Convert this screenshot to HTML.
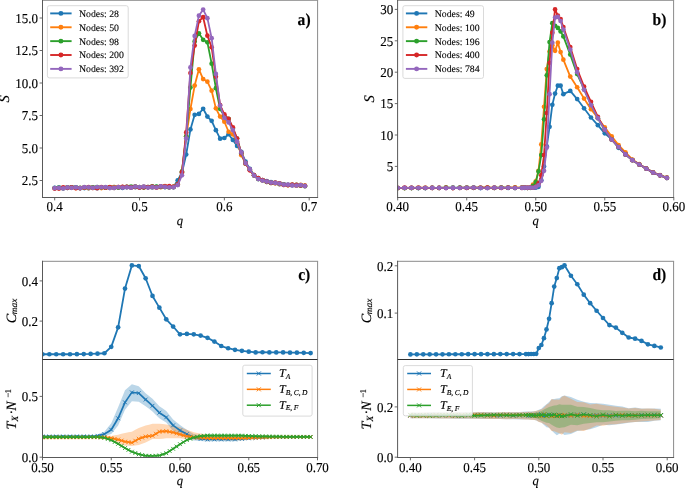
<!DOCTYPE html>
<html><head><meta charset="utf-8"><title>figure</title><style>html,body{margin:0;padding:0;background:#fff;width:685px;height:488px;overflow:hidden;}body{position:relative;font-family:"Liberation Serif",serif;}</style></head><body>
<svg width="685" height="488" viewBox="0 0 685 488" style="position:absolute;left:0;top:0;will-change:transform" font-family="'Liberation Serif', serif" text-rendering="geometricPrecision">
<style>text{stroke:#000;stroke-width:0.14px;} text.lg{stroke-width:0.1px;} text.lg2{stroke-width:0.15px;}</style>
<rect width="685" height="488" fill="#fff"/>
<defs><clipPath id="ca"><rect x="42.5" y="0.3" width="275.1" height="197.2"/></clipPath>
<clipPath id="cb"><rect x="397.7" y="0.3" width="275.90000000000003" height="197.2"/></clipPath>
<clipPath id="cc"><rect x="42.5" y="261.2" width="275" height="196"/></clipPath>
<clipPath id="cd"><rect x="397.6" y="261.2" width="276" height="196"/></clipPath></defs>
<g clip-path="url(#ca)">
<polyline points="54.7,187.97 58.94,187.72 63.18,188.22 67.42,187.89 71.67,187.34 75.91,187.29 80.15,188.25 84.39,188.1 88.63,188.25 92.87,187.7 97.11,188.19 101.36,187.59 105.6,187.29 109.84,187.72 114.08,187.16 118.32,187.23 122.56,187.92 126.81,187.17 131.05,187.52 135.29,187.27 139.53,187.39 143.77,186.81 148.01,187.1 152.25,187.42 156.5,186.87 160.74,186.51 164.98,187.08 169.22,187.15 173.46,186.89 177.7,180.24 181.95,172.7 186.19,154.5 190.43,129.41 194.67,114.85 198.91,113.94 203.15,108.74 207.39,116.54 211.64,120.83 215.88,130.19 220.12,138.64 224.36,137.99 228.6,134.22 232.84,139.94 237.08,145.92 241.33,151.9 245.57,161.65 249.81,168.93 254.05,175.11 258.29,178.18 262.53,180.06 266.77,181.12 271.02,182.22 275.26,183.1 279.5,184.17 283.74,184.37 287.98,184.73 292.22,185.19 296.47,185.6 300.71,185.41 304.95,185.73" fill="none" stroke="#1f77b4" stroke-width="1.8" stroke-linejoin="round" stroke-linecap="round" />
<circle cx="54.7" cy="187.97" r="2.35" fill="#1f77b4"/>
<circle cx="58.94" cy="187.72" r="2.35" fill="#1f77b4"/>
<circle cx="63.18" cy="188.22" r="2.35" fill="#1f77b4"/>
<circle cx="67.42" cy="187.89" r="2.35" fill="#1f77b4"/>
<circle cx="71.67" cy="187.34" r="2.35" fill="#1f77b4"/>
<circle cx="75.91" cy="187.29" r="2.35" fill="#1f77b4"/>
<circle cx="80.15" cy="188.25" r="2.35" fill="#1f77b4"/>
<circle cx="84.39" cy="188.1" r="2.35" fill="#1f77b4"/>
<circle cx="88.63" cy="188.25" r="2.35" fill="#1f77b4"/>
<circle cx="92.87" cy="187.7" r="2.35" fill="#1f77b4"/>
<circle cx="97.11" cy="188.19" r="2.35" fill="#1f77b4"/>
<circle cx="101.36" cy="187.59" r="2.35" fill="#1f77b4"/>
<circle cx="105.6" cy="187.29" r="2.35" fill="#1f77b4"/>
<circle cx="109.84" cy="187.72" r="2.35" fill="#1f77b4"/>
<circle cx="114.08" cy="187.16" r="2.35" fill="#1f77b4"/>
<circle cx="118.32" cy="187.23" r="2.35" fill="#1f77b4"/>
<circle cx="122.56" cy="187.92" r="2.35" fill="#1f77b4"/>
<circle cx="126.81" cy="187.17" r="2.35" fill="#1f77b4"/>
<circle cx="131.05" cy="187.52" r="2.35" fill="#1f77b4"/>
<circle cx="135.29" cy="187.27" r="2.35" fill="#1f77b4"/>
<circle cx="139.53" cy="187.39" r="2.35" fill="#1f77b4"/>
<circle cx="143.77" cy="186.81" r="2.35" fill="#1f77b4"/>
<circle cx="148.01" cy="187.1" r="2.35" fill="#1f77b4"/>
<circle cx="152.25" cy="187.42" r="2.35" fill="#1f77b4"/>
<circle cx="156.5" cy="186.87" r="2.35" fill="#1f77b4"/>
<circle cx="160.74" cy="186.51" r="2.35" fill="#1f77b4"/>
<circle cx="164.98" cy="187.08" r="2.35" fill="#1f77b4"/>
<circle cx="169.22" cy="187.15" r="2.35" fill="#1f77b4"/>
<circle cx="173.46" cy="186.89" r="2.35" fill="#1f77b4"/>
<circle cx="177.7" cy="180.24" r="2.35" fill="#1f77b4"/>
<circle cx="181.95" cy="172.7" r="2.35" fill="#1f77b4"/>
<circle cx="186.19" cy="154.5" r="2.35" fill="#1f77b4"/>
<circle cx="190.43" cy="129.41" r="2.35" fill="#1f77b4"/>
<circle cx="194.67" cy="114.85" r="2.35" fill="#1f77b4"/>
<circle cx="198.91" cy="113.94" r="2.35" fill="#1f77b4"/>
<circle cx="203.15" cy="108.74" r="2.35" fill="#1f77b4"/>
<circle cx="207.39" cy="116.54" r="2.35" fill="#1f77b4"/>
<circle cx="211.64" cy="120.83" r="2.35" fill="#1f77b4"/>
<circle cx="215.88" cy="130.19" r="2.35" fill="#1f77b4"/>
<circle cx="220.12" cy="138.64" r="2.35" fill="#1f77b4"/>
<circle cx="224.36" cy="137.99" r="2.35" fill="#1f77b4"/>
<circle cx="228.6" cy="134.22" r="2.35" fill="#1f77b4"/>
<circle cx="232.84" cy="139.94" r="2.35" fill="#1f77b4"/>
<circle cx="237.08" cy="145.92" r="2.35" fill="#1f77b4"/>
<circle cx="241.33" cy="151.9" r="2.35" fill="#1f77b4"/>
<circle cx="245.57" cy="161.65" r="2.35" fill="#1f77b4"/>
<circle cx="249.81" cy="168.93" r="2.35" fill="#1f77b4"/>
<circle cx="254.05" cy="175.11" r="2.35" fill="#1f77b4"/>
<circle cx="258.29" cy="178.18" r="2.35" fill="#1f77b4"/>
<circle cx="262.53" cy="180.06" r="2.35" fill="#1f77b4"/>
<circle cx="266.77" cy="181.12" r="2.35" fill="#1f77b4"/>
<circle cx="271.02" cy="182.22" r="2.35" fill="#1f77b4"/>
<circle cx="275.26" cy="183.1" r="2.35" fill="#1f77b4"/>
<circle cx="279.5" cy="184.17" r="2.35" fill="#1f77b4"/>
<circle cx="283.74" cy="184.37" r="2.35" fill="#1f77b4"/>
<circle cx="287.98" cy="184.73" r="2.35" fill="#1f77b4"/>
<circle cx="292.22" cy="185.19" r="2.35" fill="#1f77b4"/>
<circle cx="296.47" cy="185.6" r="2.35" fill="#1f77b4"/>
<circle cx="300.71" cy="185.41" r="2.35" fill="#1f77b4"/>
<circle cx="304.95" cy="185.73" r="2.35" fill="#1f77b4"/>
<polyline points="54.7,188.34 58.94,188.26 63.18,188 67.42,187.43 71.67,187.74 75.91,188.09 80.15,188.05 84.39,187.77 88.63,188.05 92.87,188.01 97.11,187.56 101.36,188.07 105.6,187.5 109.84,187.62 114.08,187.12 118.32,187.02 122.56,187.05 126.81,187 131.05,187.37 135.29,186.94 139.53,187.32 143.77,186.97 148.01,187.25 152.25,187.04 156.5,187.5 160.74,187.21 164.98,186.22 169.22,187.14 173.46,186.49 177.7,184.4 181.95,172.7 186.19,136.3 190.43,109 194.67,85.6 198.91,69.35 203.15,79.1 207.39,81.7 211.64,90.67 215.88,108.35 220.12,116.54 224.36,121.74 228.6,131.75 232.84,134.35 237.08,141.63 241.33,155.15 245.57,163.6 249.81,169.94 254.05,175.33 258.29,178.71 262.53,180.14 266.77,181.99 271.02,183.02 275.26,183.28 279.5,184.11 283.74,184.95 287.98,185.18 292.22,184.99 296.47,185.63 300.71,184.84 304.95,185.51" fill="none" stroke="#ff7f0e" stroke-width="1.8" stroke-linejoin="round" stroke-linecap="round" />
<circle cx="54.7" cy="188.34" r="2.35" fill="#ff7f0e"/>
<circle cx="58.94" cy="188.26" r="2.35" fill="#ff7f0e"/>
<circle cx="63.18" cy="188" r="2.35" fill="#ff7f0e"/>
<circle cx="67.42" cy="187.43" r="2.35" fill="#ff7f0e"/>
<circle cx="71.67" cy="187.74" r="2.35" fill="#ff7f0e"/>
<circle cx="75.91" cy="188.09" r="2.35" fill="#ff7f0e"/>
<circle cx="80.15" cy="188.05" r="2.35" fill="#ff7f0e"/>
<circle cx="84.39" cy="187.77" r="2.35" fill="#ff7f0e"/>
<circle cx="88.63" cy="188.05" r="2.35" fill="#ff7f0e"/>
<circle cx="92.87" cy="188.01" r="2.35" fill="#ff7f0e"/>
<circle cx="97.11" cy="187.56" r="2.35" fill="#ff7f0e"/>
<circle cx="101.36" cy="188.07" r="2.35" fill="#ff7f0e"/>
<circle cx="105.6" cy="187.5" r="2.35" fill="#ff7f0e"/>
<circle cx="109.84" cy="187.62" r="2.35" fill="#ff7f0e"/>
<circle cx="114.08" cy="187.12" r="2.35" fill="#ff7f0e"/>
<circle cx="118.32" cy="187.02" r="2.35" fill="#ff7f0e"/>
<circle cx="122.56" cy="187.05" r="2.35" fill="#ff7f0e"/>
<circle cx="126.81" cy="187" r="2.35" fill="#ff7f0e"/>
<circle cx="131.05" cy="187.37" r="2.35" fill="#ff7f0e"/>
<circle cx="135.29" cy="186.94" r="2.35" fill="#ff7f0e"/>
<circle cx="139.53" cy="187.32" r="2.35" fill="#ff7f0e"/>
<circle cx="143.77" cy="186.97" r="2.35" fill="#ff7f0e"/>
<circle cx="148.01" cy="187.25" r="2.35" fill="#ff7f0e"/>
<circle cx="152.25" cy="187.04" r="2.35" fill="#ff7f0e"/>
<circle cx="156.5" cy="187.5" r="2.35" fill="#ff7f0e"/>
<circle cx="160.74" cy="187.21" r="2.35" fill="#ff7f0e"/>
<circle cx="164.98" cy="186.22" r="2.35" fill="#ff7f0e"/>
<circle cx="169.22" cy="187.14" r="2.35" fill="#ff7f0e"/>
<circle cx="173.46" cy="186.49" r="2.35" fill="#ff7f0e"/>
<circle cx="177.7" cy="184.4" r="2.35" fill="#ff7f0e"/>
<circle cx="181.95" cy="172.7" r="2.35" fill="#ff7f0e"/>
<circle cx="186.19" cy="136.3" r="2.35" fill="#ff7f0e"/>
<circle cx="190.43" cy="109" r="2.35" fill="#ff7f0e"/>
<circle cx="194.67" cy="85.6" r="2.35" fill="#ff7f0e"/>
<circle cx="198.91" cy="69.35" r="2.35" fill="#ff7f0e"/>
<circle cx="203.15" cy="79.1" r="2.35" fill="#ff7f0e"/>
<circle cx="207.39" cy="81.7" r="2.35" fill="#ff7f0e"/>
<circle cx="211.64" cy="90.67" r="2.35" fill="#ff7f0e"/>
<circle cx="215.88" cy="108.35" r="2.35" fill="#ff7f0e"/>
<circle cx="220.12" cy="116.54" r="2.35" fill="#ff7f0e"/>
<circle cx="224.36" cy="121.74" r="2.35" fill="#ff7f0e"/>
<circle cx="228.6" cy="131.75" r="2.35" fill="#ff7f0e"/>
<circle cx="232.84" cy="134.35" r="2.35" fill="#ff7f0e"/>
<circle cx="237.08" cy="141.63" r="2.35" fill="#ff7f0e"/>
<circle cx="241.33" cy="155.15" r="2.35" fill="#ff7f0e"/>
<circle cx="245.57" cy="163.6" r="2.35" fill="#ff7f0e"/>
<circle cx="249.81" cy="169.94" r="2.35" fill="#ff7f0e"/>
<circle cx="254.05" cy="175.33" r="2.35" fill="#ff7f0e"/>
<circle cx="258.29" cy="178.71" r="2.35" fill="#ff7f0e"/>
<circle cx="262.53" cy="180.14" r="2.35" fill="#ff7f0e"/>
<circle cx="266.77" cy="181.99" r="2.35" fill="#ff7f0e"/>
<circle cx="271.02" cy="183.02" r="2.35" fill="#ff7f0e"/>
<circle cx="275.26" cy="183.28" r="2.35" fill="#ff7f0e"/>
<circle cx="279.5" cy="184.11" r="2.35" fill="#ff7f0e"/>
<circle cx="283.74" cy="184.95" r="2.35" fill="#ff7f0e"/>
<circle cx="287.98" cy="185.18" r="2.35" fill="#ff7f0e"/>
<circle cx="292.22" cy="184.99" r="2.35" fill="#ff7f0e"/>
<circle cx="296.47" cy="185.63" r="2.35" fill="#ff7f0e"/>
<circle cx="300.71" cy="184.84" r="2.35" fill="#ff7f0e"/>
<circle cx="304.95" cy="185.51" r="2.35" fill="#ff7f0e"/>
<polyline points="54.7,187.99 58.94,187.72 63.18,188.25 67.42,187.35 71.67,187.41 75.91,187.51 80.15,187.79 84.39,187.27 88.63,187.35 92.87,187.41 97.11,187.04 101.36,187.36 105.6,187.66 109.84,187.37 114.08,187.78 118.32,187.74 122.56,187 126.81,186.88 131.05,186.59 135.29,186.7 139.53,187.05 143.77,187.6 148.01,187.03 152.25,186.42 156.5,186.55 160.74,186.9 164.98,186.89 169.22,187.15 173.46,187.16 177.7,184.4 181.95,171.4 186.19,136.3 190.43,87.55 194.67,41.4 198.91,33.34 203.15,39.84 207.39,42.31 211.64,63.63 215.88,88.2 220.12,109 224.36,116.15 228.6,118.75 232.84,128.5 237.08,138.51 241.33,153.2 245.57,163.52 249.81,169.69 254.05,175.41 258.29,179.05 262.53,180.33 266.77,182.01 271.02,182.88 275.26,182.73 279.5,183.59 283.74,184.55 287.98,185.02 292.22,184.89 296.47,184.84 300.71,185.38 304.95,186.15" fill="none" stroke="#2ca02c" stroke-width="1.8" stroke-linejoin="round" stroke-linecap="round" />
<circle cx="54.7" cy="187.99" r="2.35" fill="#2ca02c"/>
<circle cx="58.94" cy="187.72" r="2.35" fill="#2ca02c"/>
<circle cx="63.18" cy="188.25" r="2.35" fill="#2ca02c"/>
<circle cx="67.42" cy="187.35" r="2.35" fill="#2ca02c"/>
<circle cx="71.67" cy="187.41" r="2.35" fill="#2ca02c"/>
<circle cx="75.91" cy="187.51" r="2.35" fill="#2ca02c"/>
<circle cx="80.15" cy="187.79" r="2.35" fill="#2ca02c"/>
<circle cx="84.39" cy="187.27" r="2.35" fill="#2ca02c"/>
<circle cx="88.63" cy="187.35" r="2.35" fill="#2ca02c"/>
<circle cx="92.87" cy="187.41" r="2.35" fill="#2ca02c"/>
<circle cx="97.11" cy="187.04" r="2.35" fill="#2ca02c"/>
<circle cx="101.36" cy="187.36" r="2.35" fill="#2ca02c"/>
<circle cx="105.6" cy="187.66" r="2.35" fill="#2ca02c"/>
<circle cx="109.84" cy="187.37" r="2.35" fill="#2ca02c"/>
<circle cx="114.08" cy="187.78" r="2.35" fill="#2ca02c"/>
<circle cx="118.32" cy="187.74" r="2.35" fill="#2ca02c"/>
<circle cx="122.56" cy="187" r="2.35" fill="#2ca02c"/>
<circle cx="126.81" cy="186.88" r="2.35" fill="#2ca02c"/>
<circle cx="131.05" cy="186.59" r="2.35" fill="#2ca02c"/>
<circle cx="135.29" cy="186.7" r="2.35" fill="#2ca02c"/>
<circle cx="139.53" cy="187.05" r="2.35" fill="#2ca02c"/>
<circle cx="143.77" cy="187.6" r="2.35" fill="#2ca02c"/>
<circle cx="148.01" cy="187.03" r="2.35" fill="#2ca02c"/>
<circle cx="152.25" cy="186.42" r="2.35" fill="#2ca02c"/>
<circle cx="156.5" cy="186.55" r="2.35" fill="#2ca02c"/>
<circle cx="160.74" cy="186.9" r="2.35" fill="#2ca02c"/>
<circle cx="164.98" cy="186.89" r="2.35" fill="#2ca02c"/>
<circle cx="169.22" cy="187.15" r="2.35" fill="#2ca02c"/>
<circle cx="173.46" cy="187.16" r="2.35" fill="#2ca02c"/>
<circle cx="177.7" cy="184.4" r="2.35" fill="#2ca02c"/>
<circle cx="181.95" cy="171.4" r="2.35" fill="#2ca02c"/>
<circle cx="186.19" cy="136.3" r="2.35" fill="#2ca02c"/>
<circle cx="190.43" cy="87.55" r="2.35" fill="#2ca02c"/>
<circle cx="194.67" cy="41.4" r="2.35" fill="#2ca02c"/>
<circle cx="198.91" cy="33.34" r="2.35" fill="#2ca02c"/>
<circle cx="203.15" cy="39.84" r="2.35" fill="#2ca02c"/>
<circle cx="207.39" cy="42.31" r="2.35" fill="#2ca02c"/>
<circle cx="211.64" cy="63.63" r="2.35" fill="#2ca02c"/>
<circle cx="215.88" cy="88.2" r="2.35" fill="#2ca02c"/>
<circle cx="220.12" cy="109" r="2.35" fill="#2ca02c"/>
<circle cx="224.36" cy="116.15" r="2.35" fill="#2ca02c"/>
<circle cx="228.6" cy="118.75" r="2.35" fill="#2ca02c"/>
<circle cx="232.84" cy="128.5" r="2.35" fill="#2ca02c"/>
<circle cx="237.08" cy="138.51" r="2.35" fill="#2ca02c"/>
<circle cx="241.33" cy="153.2" r="2.35" fill="#2ca02c"/>
<circle cx="245.57" cy="163.52" r="2.35" fill="#2ca02c"/>
<circle cx="249.81" cy="169.69" r="2.35" fill="#2ca02c"/>
<circle cx="254.05" cy="175.41" r="2.35" fill="#2ca02c"/>
<circle cx="258.29" cy="179.05" r="2.35" fill="#2ca02c"/>
<circle cx="262.53" cy="180.33" r="2.35" fill="#2ca02c"/>
<circle cx="266.77" cy="182.01" r="2.35" fill="#2ca02c"/>
<circle cx="271.02" cy="182.88" r="2.35" fill="#2ca02c"/>
<circle cx="275.26" cy="182.73" r="2.35" fill="#2ca02c"/>
<circle cx="279.5" cy="183.59" r="2.35" fill="#2ca02c"/>
<circle cx="283.74" cy="184.55" r="2.35" fill="#2ca02c"/>
<circle cx="287.98" cy="185.02" r="2.35" fill="#2ca02c"/>
<circle cx="292.22" cy="184.89" r="2.35" fill="#2ca02c"/>
<circle cx="296.47" cy="184.84" r="2.35" fill="#2ca02c"/>
<circle cx="300.71" cy="185.38" r="2.35" fill="#2ca02c"/>
<circle cx="304.95" cy="186.15" r="2.35" fill="#2ca02c"/>
<polyline points="54.7,188.61 58.94,188.54 63.18,187.35 67.42,187.85 71.67,187.42 75.91,188.24 80.15,188.07 84.39,187.47 88.63,187.15 92.87,187.83 97.11,188.14 101.36,187.06 105.6,187.75 109.84,187.12 114.08,187.83 118.32,187.09 122.56,186.85 126.81,186.96 131.05,187.39 135.29,186.86 139.53,187.58 143.77,187.31 148.01,187.12 152.25,186.48 156.5,187.38 160.74,186.39 164.98,186.44 169.22,186.17 173.46,186.91 177.7,184.4 181.95,172.05 186.19,132.4 190.43,72.99 194.67,45.56 198.91,21.25 203.15,17.22 207.39,35.68 211.64,47.25 215.88,76.76 220.12,105.1 224.36,114.33 228.6,118.75 232.84,127.33 237.08,138.51 241.33,152.94 245.57,163.39 249.81,170.37 254.05,175.22 258.29,178.2 262.53,180.03 266.77,181.56 271.02,182.8 275.26,182.62 279.5,183.36 283.74,184.95 287.98,185.09 292.22,184.7 296.47,184.95 300.71,185.5 304.95,185.93" fill="none" stroke="#d62728" stroke-width="1.8" stroke-linejoin="round" stroke-linecap="round" />
<circle cx="54.7" cy="188.61" r="2.35" fill="#d62728"/>
<circle cx="58.94" cy="188.54" r="2.35" fill="#d62728"/>
<circle cx="63.18" cy="187.35" r="2.35" fill="#d62728"/>
<circle cx="67.42" cy="187.85" r="2.35" fill="#d62728"/>
<circle cx="71.67" cy="187.42" r="2.35" fill="#d62728"/>
<circle cx="75.91" cy="188.24" r="2.35" fill="#d62728"/>
<circle cx="80.15" cy="188.07" r="2.35" fill="#d62728"/>
<circle cx="84.39" cy="187.47" r="2.35" fill="#d62728"/>
<circle cx="88.63" cy="187.15" r="2.35" fill="#d62728"/>
<circle cx="92.87" cy="187.83" r="2.35" fill="#d62728"/>
<circle cx="97.11" cy="188.14" r="2.35" fill="#d62728"/>
<circle cx="101.36" cy="187.06" r="2.35" fill="#d62728"/>
<circle cx="105.6" cy="187.75" r="2.35" fill="#d62728"/>
<circle cx="109.84" cy="187.12" r="2.35" fill="#d62728"/>
<circle cx="114.08" cy="187.83" r="2.35" fill="#d62728"/>
<circle cx="118.32" cy="187.09" r="2.35" fill="#d62728"/>
<circle cx="122.56" cy="186.85" r="2.35" fill="#d62728"/>
<circle cx="126.81" cy="186.96" r="2.35" fill="#d62728"/>
<circle cx="131.05" cy="187.39" r="2.35" fill="#d62728"/>
<circle cx="135.29" cy="186.86" r="2.35" fill="#d62728"/>
<circle cx="139.53" cy="187.58" r="2.35" fill="#d62728"/>
<circle cx="143.77" cy="187.31" r="2.35" fill="#d62728"/>
<circle cx="148.01" cy="187.12" r="2.35" fill="#d62728"/>
<circle cx="152.25" cy="186.48" r="2.35" fill="#d62728"/>
<circle cx="156.5" cy="187.38" r="2.35" fill="#d62728"/>
<circle cx="160.74" cy="186.39" r="2.35" fill="#d62728"/>
<circle cx="164.98" cy="186.44" r="2.35" fill="#d62728"/>
<circle cx="169.22" cy="186.17" r="2.35" fill="#d62728"/>
<circle cx="173.46" cy="186.91" r="2.35" fill="#d62728"/>
<circle cx="177.7" cy="184.4" r="2.35" fill="#d62728"/>
<circle cx="181.95" cy="172.05" r="2.35" fill="#d62728"/>
<circle cx="186.19" cy="132.4" r="2.35" fill="#d62728"/>
<circle cx="190.43" cy="72.99" r="2.35" fill="#d62728"/>
<circle cx="194.67" cy="45.56" r="2.35" fill="#d62728"/>
<circle cx="198.91" cy="21.25" r="2.35" fill="#d62728"/>
<circle cx="203.15" cy="17.22" r="2.35" fill="#d62728"/>
<circle cx="207.39" cy="35.68" r="2.35" fill="#d62728"/>
<circle cx="211.64" cy="47.25" r="2.35" fill="#d62728"/>
<circle cx="215.88" cy="76.76" r="2.35" fill="#d62728"/>
<circle cx="220.12" cy="105.1" r="2.35" fill="#d62728"/>
<circle cx="224.36" cy="114.33" r="2.35" fill="#d62728"/>
<circle cx="228.6" cy="118.75" r="2.35" fill="#d62728"/>
<circle cx="232.84" cy="127.33" r="2.35" fill="#d62728"/>
<circle cx="237.08" cy="138.51" r="2.35" fill="#d62728"/>
<circle cx="241.33" cy="152.94" r="2.35" fill="#d62728"/>
<circle cx="245.57" cy="163.39" r="2.35" fill="#d62728"/>
<circle cx="249.81" cy="170.37" r="2.35" fill="#d62728"/>
<circle cx="254.05" cy="175.22" r="2.35" fill="#d62728"/>
<circle cx="258.29" cy="178.2" r="2.35" fill="#d62728"/>
<circle cx="262.53" cy="180.03" r="2.35" fill="#d62728"/>
<circle cx="266.77" cy="181.56" r="2.35" fill="#d62728"/>
<circle cx="271.02" cy="182.8" r="2.35" fill="#d62728"/>
<circle cx="275.26" cy="182.62" r="2.35" fill="#d62728"/>
<circle cx="279.5" cy="183.36" r="2.35" fill="#d62728"/>
<circle cx="283.74" cy="184.95" r="2.35" fill="#d62728"/>
<circle cx="287.98" cy="185.09" r="2.35" fill="#d62728"/>
<circle cx="292.22" cy="184.7" r="2.35" fill="#d62728"/>
<circle cx="296.47" cy="184.95" r="2.35" fill="#d62728"/>
<circle cx="300.71" cy="185.5" r="2.35" fill="#d62728"/>
<circle cx="304.95" cy="185.93" r="2.35" fill="#d62728"/>
<polyline points="54.7,188.13 58.94,187.94 63.18,188.47 67.42,187.46 71.67,187.81 75.91,187.45 80.15,188.11 84.39,187.11 88.63,187.34 92.87,187.83 97.11,186.99 101.36,187.27 105.6,187.04 109.84,188.03 114.08,187.97 118.32,187.03 122.56,187.55 126.81,187.23 131.05,187.65 135.29,186.54 139.53,187.11 143.77,186.64 148.01,187.57 152.25,187 156.5,187.49 160.74,186.38 164.98,186.9 169.22,187.35 173.46,187.29 177.7,185.05 181.95,175.3 186.19,138.38 190.43,67.4 194.67,35.94 198.91,15.66 203.15,9.55 207.39,18.13 211.64,38.15 215.88,73.9 220.12,105.49 224.36,117.84 228.6,122.39 232.84,130.06 237.08,141.63 241.33,152.42 245.57,163.08 249.81,169.19 254.05,175.52 258.29,179.12 262.53,180.57 266.77,181.61 271.02,182.58 275.26,182.88 279.5,183.62 283.74,184.66 287.98,184.67 292.22,185.41 296.47,185.54 300.71,185 304.95,186.06" fill="none" stroke="#9467bd" stroke-width="1.8" stroke-linejoin="round" stroke-linecap="round" />
<circle cx="54.7" cy="188.13" r="2.35" fill="#9467bd"/>
<circle cx="58.94" cy="187.94" r="2.35" fill="#9467bd"/>
<circle cx="63.18" cy="188.47" r="2.35" fill="#9467bd"/>
<circle cx="67.42" cy="187.46" r="2.35" fill="#9467bd"/>
<circle cx="71.67" cy="187.81" r="2.35" fill="#9467bd"/>
<circle cx="75.91" cy="187.45" r="2.35" fill="#9467bd"/>
<circle cx="80.15" cy="188.11" r="2.35" fill="#9467bd"/>
<circle cx="84.39" cy="187.11" r="2.35" fill="#9467bd"/>
<circle cx="88.63" cy="187.34" r="2.35" fill="#9467bd"/>
<circle cx="92.87" cy="187.83" r="2.35" fill="#9467bd"/>
<circle cx="97.11" cy="186.99" r="2.35" fill="#9467bd"/>
<circle cx="101.36" cy="187.27" r="2.35" fill="#9467bd"/>
<circle cx="105.6" cy="187.04" r="2.35" fill="#9467bd"/>
<circle cx="109.84" cy="188.03" r="2.35" fill="#9467bd"/>
<circle cx="114.08" cy="187.97" r="2.35" fill="#9467bd"/>
<circle cx="118.32" cy="187.03" r="2.35" fill="#9467bd"/>
<circle cx="122.56" cy="187.55" r="2.35" fill="#9467bd"/>
<circle cx="126.81" cy="187.23" r="2.35" fill="#9467bd"/>
<circle cx="131.05" cy="187.65" r="2.35" fill="#9467bd"/>
<circle cx="135.29" cy="186.54" r="2.35" fill="#9467bd"/>
<circle cx="139.53" cy="187.11" r="2.35" fill="#9467bd"/>
<circle cx="143.77" cy="186.64" r="2.35" fill="#9467bd"/>
<circle cx="148.01" cy="187.57" r="2.35" fill="#9467bd"/>
<circle cx="152.25" cy="187" r="2.35" fill="#9467bd"/>
<circle cx="156.5" cy="187.49" r="2.35" fill="#9467bd"/>
<circle cx="160.74" cy="186.38" r="2.35" fill="#9467bd"/>
<circle cx="164.98" cy="186.9" r="2.35" fill="#9467bd"/>
<circle cx="169.22" cy="187.35" r="2.35" fill="#9467bd"/>
<circle cx="173.46" cy="187.29" r="2.35" fill="#9467bd"/>
<circle cx="177.7" cy="185.05" r="2.35" fill="#9467bd"/>
<circle cx="181.95" cy="175.3" r="2.35" fill="#9467bd"/>
<circle cx="186.19" cy="138.38" r="2.35" fill="#9467bd"/>
<circle cx="190.43" cy="67.4" r="2.35" fill="#9467bd"/>
<circle cx="194.67" cy="35.94" r="2.35" fill="#9467bd"/>
<circle cx="198.91" cy="15.66" r="2.35" fill="#9467bd"/>
<circle cx="203.15" cy="9.55" r="2.35" fill="#9467bd"/>
<circle cx="207.39" cy="18.13" r="2.35" fill="#9467bd"/>
<circle cx="211.64" cy="38.15" r="2.35" fill="#9467bd"/>
<circle cx="215.88" cy="73.9" r="2.35" fill="#9467bd"/>
<circle cx="220.12" cy="105.49" r="2.35" fill="#9467bd"/>
<circle cx="224.36" cy="117.84" r="2.35" fill="#9467bd"/>
<circle cx="228.6" cy="122.39" r="2.35" fill="#9467bd"/>
<circle cx="232.84" cy="130.06" r="2.35" fill="#9467bd"/>
<circle cx="237.08" cy="141.63" r="2.35" fill="#9467bd"/>
<circle cx="241.33" cy="152.42" r="2.35" fill="#9467bd"/>
<circle cx="245.57" cy="163.08" r="2.35" fill="#9467bd"/>
<circle cx="249.81" cy="169.19" r="2.35" fill="#9467bd"/>
<circle cx="254.05" cy="175.52" r="2.35" fill="#9467bd"/>
<circle cx="258.29" cy="179.12" r="2.35" fill="#9467bd"/>
<circle cx="262.53" cy="180.57" r="2.35" fill="#9467bd"/>
<circle cx="266.77" cy="181.61" r="2.35" fill="#9467bd"/>
<circle cx="271.02" cy="182.58" r="2.35" fill="#9467bd"/>
<circle cx="275.26" cy="182.88" r="2.35" fill="#9467bd"/>
<circle cx="279.5" cy="183.62" r="2.35" fill="#9467bd"/>
<circle cx="283.74" cy="184.66" r="2.35" fill="#9467bd"/>
<circle cx="287.98" cy="184.67" r="2.35" fill="#9467bd"/>
<circle cx="292.22" cy="185.41" r="2.35" fill="#9467bd"/>
<circle cx="296.47" cy="185.54" r="2.35" fill="#9467bd"/>
<circle cx="300.71" cy="185" r="2.35" fill="#9467bd"/>
<circle cx="304.95" cy="186.06" r="2.35" fill="#9467bd"/>
</g>
<rect x="47.4" y="5.7" width="80.8" height="72.2" rx="2" ry="2" fill="#fff" fill-opacity="0.8" stroke="#d6d6d6" stroke-width="0.9"/>
<line x1="50.2" y1="13.4" x2="71.6" y2="13.4" stroke="#1f77b4" stroke-width="1.9"/>
<circle cx="60.9" cy="13.4" r="2.45" fill="#1f77b4"/>
<text x="79" y="16.8" font-size="9.8" text-anchor="start" class="lg">Nodes: 28</text>
<line x1="50.2" y1="27.27" x2="71.6" y2="27.27" stroke="#ff7f0e" stroke-width="1.9"/>
<circle cx="60.9" cy="27.27" r="2.45" fill="#ff7f0e"/>
<text x="79" y="30.67" font-size="9.8" text-anchor="start" class="lg">Nodes: 50</text>
<line x1="50.2" y1="41.14" x2="71.6" y2="41.14" stroke="#2ca02c" stroke-width="1.9"/>
<circle cx="60.9" cy="41.14" r="2.45" fill="#2ca02c"/>
<text x="79" y="44.54" font-size="9.8" text-anchor="start" class="lg">Nodes: 98</text>
<line x1="50.2" y1="55.01" x2="71.6" y2="55.01" stroke="#d62728" stroke-width="1.9"/>
<circle cx="60.9" cy="55.01" r="2.45" fill="#d62728"/>
<text x="79" y="58.41" font-size="9.8" text-anchor="start" class="lg">Nodes: 200</text>
<line x1="50.2" y1="68.88" x2="71.6" y2="68.88" stroke="#9467bd" stroke-width="1.9"/>
<circle cx="60.9" cy="68.88" r="2.45" fill="#9467bd"/>
<text x="79" y="72.28" font-size="9.8" text-anchor="start" class="lg">Nodes: 392</text>
<line x1="317.6" y1="0.3" x2="317.6" y2="197.5" stroke="#8a8a8a" stroke-width="1"/>
<line x1="42" y1="0.3" x2="318.1" y2="0.3" stroke="#8a8a8a" stroke-width="1"/>
<line x1="42.5" y1="-0.2" x2="42.5" y2="198" stroke="#595959" stroke-width="1"/>
<line x1="42" y1="197.5" x2="318.1" y2="197.5" stroke="#595959" stroke-width="1"/>
<line x1="54.7" y1="197.5" x2="54.7" y2="200.4" stroke="#595959" stroke-width="0.9"/>
<text transform="translate(54.7,211) scale(0.955,1)" font-size="13.6" text-anchor="middle" >0.4</text>
<line x1="139.53" y1="197.5" x2="139.53" y2="200.4" stroke="#595959" stroke-width="0.9"/>
<text transform="translate(139.53,211) scale(0.955,1)" font-size="13.6" text-anchor="middle" >0.5</text>
<line x1="224.36" y1="197.5" x2="224.36" y2="200.4" stroke="#595959" stroke-width="0.9"/>
<text transform="translate(224.36,211) scale(0.955,1)" font-size="13.6" text-anchor="middle" >0.6</text>
<line x1="309.19" y1="197.5" x2="309.19" y2="200.4" stroke="#595959" stroke-width="0.9"/>
<text transform="translate(309.19,211) scale(0.955,1)" font-size="13.6" text-anchor="middle" >0.7</text>
<line x1="39.6" y1="180.5" x2="42.5" y2="180.5" stroke="#595959" stroke-width="0.9"/>
<text transform="translate(38.1,185.2) scale(0.955,1)" font-size="13.6" text-anchor="end" >2.5</text>
<line x1="39.6" y1="148" x2="42.5" y2="148" stroke="#595959" stroke-width="0.9"/>
<text transform="translate(38.1,152.7) scale(0.955,1)" font-size="13.6" text-anchor="end" >5.0</text>
<line x1="39.6" y1="115.5" x2="42.5" y2="115.5" stroke="#595959" stroke-width="0.9"/>
<text transform="translate(38.1,120.2) scale(0.955,1)" font-size="13.6" text-anchor="end" >7.5</text>
<line x1="39.6" y1="83" x2="42.5" y2="83" stroke="#595959" stroke-width="0.9"/>
<text transform="translate(38.1,87.7) scale(0.955,1)" font-size="13.6" text-anchor="end" >10.0</text>
<line x1="39.6" y1="50.5" x2="42.5" y2="50.5" stroke="#595959" stroke-width="0.9"/>
<text transform="translate(38.1,55.2) scale(0.955,1)" font-size="13.6" text-anchor="end" >12.5</text>
<line x1="39.6" y1="18" x2="42.5" y2="18" stroke="#595959" stroke-width="0.9"/>
<text transform="translate(38.1,22.7) scale(0.955,1)" font-size="13.6" text-anchor="end" >15.0</text>
<text transform="translate(180,224.7) scale(0.93,1)" font-size="13.5" text-anchor="middle" font-style="italic">q</text>
<text transform="translate(9.2,98.8) rotate(-90)" font-size="14.6" font-style="italic" text-anchor="middle">S</text>
<text transform="translate(310.6,24.6) scale(0.93,1)" font-size="16.8" text-anchor="end" font-weight="bold">a)</text>
<g clip-path="url(#cb)">
<polyline points="397.7,188.02 404.6,188 411.5,187.88 418.41,188.11 425.31,188.09 432.21,187.87 439.11,188.01 446.02,187.74 452.92,187.68 459.82,187.78 466.72,187.72 473.63,187.86 480.53,188.03 487.43,187.83 494.33,187.85 501.24,187.73 508.14,187.96 515.04,187.91 521.94,187.61 524.71,187.88 527.47,187.8 530.23,187.54 532.99,187.75 535.75,187.75 538.51,186.81 541.27,180.22 544.03,166.4 546.79,146.3 549.55,126.84 552.32,104.86 555.08,93.55 557.84,85.7 560.6,85.7 563.36,94.18 570.26,90.91 577.16,99.08 584.07,108.31 590.97,117.48 597.87,125.2 604.77,133.37 611.68,139.21 618.58,147.87 625.48,154.47 632.38,160.12 639.29,164.52 646.19,168.6 653.09,172.62 659.99,175.32 666.9,177.89" fill="none" stroke="#1f77b4" stroke-width="1.8" stroke-linejoin="round" stroke-linecap="round" />
<circle cx="397.7" cy="188.02" r="2.35" fill="#1f77b4"/>
<circle cx="404.6" cy="188" r="2.35" fill="#1f77b4"/>
<circle cx="411.5" cy="187.88" r="2.35" fill="#1f77b4"/>
<circle cx="418.41" cy="188.11" r="2.35" fill="#1f77b4"/>
<circle cx="425.31" cy="188.09" r="2.35" fill="#1f77b4"/>
<circle cx="432.21" cy="187.87" r="2.35" fill="#1f77b4"/>
<circle cx="439.11" cy="188.01" r="2.35" fill="#1f77b4"/>
<circle cx="446.02" cy="187.74" r="2.35" fill="#1f77b4"/>
<circle cx="452.92" cy="187.68" r="2.35" fill="#1f77b4"/>
<circle cx="459.82" cy="187.78" r="2.35" fill="#1f77b4"/>
<circle cx="466.72" cy="187.72" r="2.35" fill="#1f77b4"/>
<circle cx="473.63" cy="187.86" r="2.35" fill="#1f77b4"/>
<circle cx="480.53" cy="188.03" r="2.35" fill="#1f77b4"/>
<circle cx="487.43" cy="187.83" r="2.35" fill="#1f77b4"/>
<circle cx="494.33" cy="187.85" r="2.35" fill="#1f77b4"/>
<circle cx="501.24" cy="187.73" r="2.35" fill="#1f77b4"/>
<circle cx="508.14" cy="187.96" r="2.35" fill="#1f77b4"/>
<circle cx="515.04" cy="187.91" r="2.35" fill="#1f77b4"/>
<circle cx="521.94" cy="187.61" r="2.35" fill="#1f77b4"/>
<circle cx="524.71" cy="187.88" r="2.35" fill="#1f77b4"/>
<circle cx="527.47" cy="187.8" r="2.35" fill="#1f77b4"/>
<circle cx="530.23" cy="187.54" r="2.35" fill="#1f77b4"/>
<circle cx="532.99" cy="187.75" r="2.35" fill="#1f77b4"/>
<circle cx="535.75" cy="187.75" r="2.35" fill="#1f77b4"/>
<circle cx="538.51" cy="186.81" r="2.35" fill="#1f77b4"/>
<circle cx="541.27" cy="180.22" r="2.35" fill="#1f77b4"/>
<circle cx="544.03" cy="166.4" r="2.35" fill="#1f77b4"/>
<circle cx="546.79" cy="146.3" r="2.35" fill="#1f77b4"/>
<circle cx="549.55" cy="126.84" r="2.35" fill="#1f77b4"/>
<circle cx="552.32" cy="104.86" r="2.35" fill="#1f77b4"/>
<circle cx="555.08" cy="93.55" r="2.35" fill="#1f77b4"/>
<circle cx="557.84" cy="85.7" r="2.35" fill="#1f77b4"/>
<circle cx="560.6" cy="85.7" r="2.35" fill="#1f77b4"/>
<circle cx="563.36" cy="94.18" r="2.35" fill="#1f77b4"/>
<circle cx="570.26" cy="90.91" r="2.35" fill="#1f77b4"/>
<circle cx="577.16" cy="99.08" r="2.35" fill="#1f77b4"/>
<circle cx="584.07" cy="108.31" r="2.35" fill="#1f77b4"/>
<circle cx="590.97" cy="117.48" r="2.35" fill="#1f77b4"/>
<circle cx="597.87" cy="125.2" r="2.35" fill="#1f77b4"/>
<circle cx="604.77" cy="133.37" r="2.35" fill="#1f77b4"/>
<circle cx="611.68" cy="139.21" r="2.35" fill="#1f77b4"/>
<circle cx="618.58" cy="147.87" r="2.35" fill="#1f77b4"/>
<circle cx="625.48" cy="154.47" r="2.35" fill="#1f77b4"/>
<circle cx="632.38" cy="160.12" r="2.35" fill="#1f77b4"/>
<circle cx="639.29" cy="164.52" r="2.35" fill="#1f77b4"/>
<circle cx="646.19" cy="168.6" r="2.35" fill="#1f77b4"/>
<circle cx="653.09" cy="172.62" r="2.35" fill="#1f77b4"/>
<circle cx="659.99" cy="175.32" r="2.35" fill="#1f77b4"/>
<circle cx="666.9" cy="177.89" r="2.35" fill="#1f77b4"/>
<polyline points="397.7,187.74 404.6,188.06 411.5,187.85 418.41,187.65 425.31,187.61 432.21,187.95 439.11,187.92 446.02,187.58 452.92,187.85 459.82,187.98 466.72,187.64 473.63,187.78 480.53,187.6 487.43,187.72 494.33,187.69 501.24,187.72 508.14,187.77 515.04,187.45 521.94,187.56 524.71,187.49 527.47,187.43 530.23,187.75 532.99,184.61 535.75,181.47 538.51,170.8 541.27,144.42 544.03,106.74 546.79,69.06 549.55,51.48 552.32,45.2 555.08,50.85 557.84,42.68 560.6,52.1 563.36,59.64 570.26,76.6 577.16,87.27 584.07,98.58 590.97,109.25 597.87,117.92 604.77,127.46 611.68,136.26 618.58,145.05 625.48,152.27 632.38,159.49 639.29,164.2 646.19,168.28 653.09,172.37 659.99,175.19 666.9,177.7" fill="none" stroke="#ff7f0e" stroke-width="1.8" stroke-linejoin="round" stroke-linecap="round" />
<circle cx="397.7" cy="187.74" r="2.35" fill="#ff7f0e"/>
<circle cx="404.6" cy="188.06" r="2.35" fill="#ff7f0e"/>
<circle cx="411.5" cy="187.85" r="2.35" fill="#ff7f0e"/>
<circle cx="418.41" cy="187.65" r="2.35" fill="#ff7f0e"/>
<circle cx="425.31" cy="187.61" r="2.35" fill="#ff7f0e"/>
<circle cx="432.21" cy="187.95" r="2.35" fill="#ff7f0e"/>
<circle cx="439.11" cy="187.92" r="2.35" fill="#ff7f0e"/>
<circle cx="446.02" cy="187.58" r="2.35" fill="#ff7f0e"/>
<circle cx="452.92" cy="187.85" r="2.35" fill="#ff7f0e"/>
<circle cx="459.82" cy="187.98" r="2.35" fill="#ff7f0e"/>
<circle cx="466.72" cy="187.64" r="2.35" fill="#ff7f0e"/>
<circle cx="473.63" cy="187.78" r="2.35" fill="#ff7f0e"/>
<circle cx="480.53" cy="187.6" r="2.35" fill="#ff7f0e"/>
<circle cx="487.43" cy="187.72" r="2.35" fill="#ff7f0e"/>
<circle cx="494.33" cy="187.69" r="2.35" fill="#ff7f0e"/>
<circle cx="501.24" cy="187.72" r="2.35" fill="#ff7f0e"/>
<circle cx="508.14" cy="187.77" r="2.35" fill="#ff7f0e"/>
<circle cx="515.04" cy="187.45" r="2.35" fill="#ff7f0e"/>
<circle cx="521.94" cy="187.56" r="2.35" fill="#ff7f0e"/>
<circle cx="524.71" cy="187.49" r="2.35" fill="#ff7f0e"/>
<circle cx="527.47" cy="187.43" r="2.35" fill="#ff7f0e"/>
<circle cx="530.23" cy="187.75" r="2.35" fill="#ff7f0e"/>
<circle cx="532.99" cy="184.61" r="2.35" fill="#ff7f0e"/>
<circle cx="535.75" cy="181.47" r="2.35" fill="#ff7f0e"/>
<circle cx="538.51" cy="170.8" r="2.35" fill="#ff7f0e"/>
<circle cx="541.27" cy="144.42" r="2.35" fill="#ff7f0e"/>
<circle cx="544.03" cy="106.74" r="2.35" fill="#ff7f0e"/>
<circle cx="546.79" cy="69.06" r="2.35" fill="#ff7f0e"/>
<circle cx="549.55" cy="51.48" r="2.35" fill="#ff7f0e"/>
<circle cx="552.32" cy="45.2" r="2.35" fill="#ff7f0e"/>
<circle cx="555.08" cy="50.85" r="2.35" fill="#ff7f0e"/>
<circle cx="557.84" cy="42.68" r="2.35" fill="#ff7f0e"/>
<circle cx="560.6" cy="52.1" r="2.35" fill="#ff7f0e"/>
<circle cx="563.36" cy="59.64" r="2.35" fill="#ff7f0e"/>
<circle cx="570.26" cy="76.6" r="2.35" fill="#ff7f0e"/>
<circle cx="577.16" cy="87.27" r="2.35" fill="#ff7f0e"/>
<circle cx="584.07" cy="98.58" r="2.35" fill="#ff7f0e"/>
<circle cx="590.97" cy="109.25" r="2.35" fill="#ff7f0e"/>
<circle cx="597.87" cy="117.92" r="2.35" fill="#ff7f0e"/>
<circle cx="604.77" cy="127.46" r="2.35" fill="#ff7f0e"/>
<circle cx="611.68" cy="136.26" r="2.35" fill="#ff7f0e"/>
<circle cx="618.58" cy="145.05" r="2.35" fill="#ff7f0e"/>
<circle cx="625.48" cy="152.27" r="2.35" fill="#ff7f0e"/>
<circle cx="632.38" cy="159.49" r="2.35" fill="#ff7f0e"/>
<circle cx="639.29" cy="164.2" r="2.35" fill="#ff7f0e"/>
<circle cx="646.19" cy="168.28" r="2.35" fill="#ff7f0e"/>
<circle cx="653.09" cy="172.37" r="2.35" fill="#ff7f0e"/>
<circle cx="659.99" cy="175.19" r="2.35" fill="#ff7f0e"/>
<circle cx="666.9" cy="177.7" r="2.35" fill="#ff7f0e"/>
<polyline points="397.7,188.08 404.6,188.05 411.5,188.11 418.41,188 425.31,187.99 432.21,187.84 439.11,187.8 446.02,187.67 452.92,187.83 459.82,187.62 466.72,187.86 473.63,187.68 480.53,187.77 487.43,187.73 494.33,187.9 501.24,187.56 508.14,187.64 515.04,187.94 521.94,187.74 524.71,187.51 527.47,187.98 530.23,187.85 532.99,185.87 535.75,182.1 538.51,171.42 541.27,155.1 544.03,119.3 546.79,75.34 549.55,42.06 552.32,23.22 555.08,25.73 557.84,27.93 560.6,31.38 563.36,36.4 570.26,54.62 577.16,74.08 584.07,89.16 590.97,104.23 597.87,118.17 604.77,129.72 611.68,139.52 618.58,146.99 625.48,154.41 632.38,160.18 639.29,164.52 646.19,168.6 653.09,172.62 659.99,175.32 666.9,177.89" fill="none" stroke="#2ca02c" stroke-width="1.8" stroke-linejoin="round" stroke-linecap="round" />
<circle cx="397.7" cy="188.08" r="2.35" fill="#2ca02c"/>
<circle cx="404.6" cy="188.05" r="2.35" fill="#2ca02c"/>
<circle cx="411.5" cy="188.11" r="2.35" fill="#2ca02c"/>
<circle cx="418.41" cy="188" r="2.35" fill="#2ca02c"/>
<circle cx="425.31" cy="187.99" r="2.35" fill="#2ca02c"/>
<circle cx="432.21" cy="187.84" r="2.35" fill="#2ca02c"/>
<circle cx="439.11" cy="187.8" r="2.35" fill="#2ca02c"/>
<circle cx="446.02" cy="187.67" r="2.35" fill="#2ca02c"/>
<circle cx="452.92" cy="187.83" r="2.35" fill="#2ca02c"/>
<circle cx="459.82" cy="187.62" r="2.35" fill="#2ca02c"/>
<circle cx="466.72" cy="187.86" r="2.35" fill="#2ca02c"/>
<circle cx="473.63" cy="187.68" r="2.35" fill="#2ca02c"/>
<circle cx="480.53" cy="187.77" r="2.35" fill="#2ca02c"/>
<circle cx="487.43" cy="187.73" r="2.35" fill="#2ca02c"/>
<circle cx="494.33" cy="187.9" r="2.35" fill="#2ca02c"/>
<circle cx="501.24" cy="187.56" r="2.35" fill="#2ca02c"/>
<circle cx="508.14" cy="187.64" r="2.35" fill="#2ca02c"/>
<circle cx="515.04" cy="187.94" r="2.35" fill="#2ca02c"/>
<circle cx="521.94" cy="187.74" r="2.35" fill="#2ca02c"/>
<circle cx="524.71" cy="187.51" r="2.35" fill="#2ca02c"/>
<circle cx="527.47" cy="187.98" r="2.35" fill="#2ca02c"/>
<circle cx="530.23" cy="187.85" r="2.35" fill="#2ca02c"/>
<circle cx="532.99" cy="185.87" r="2.35" fill="#2ca02c"/>
<circle cx="535.75" cy="182.1" r="2.35" fill="#2ca02c"/>
<circle cx="538.51" cy="171.42" r="2.35" fill="#2ca02c"/>
<circle cx="541.27" cy="155.1" r="2.35" fill="#2ca02c"/>
<circle cx="544.03" cy="119.3" r="2.35" fill="#2ca02c"/>
<circle cx="546.79" cy="75.34" r="2.35" fill="#2ca02c"/>
<circle cx="549.55" cy="42.06" r="2.35" fill="#2ca02c"/>
<circle cx="552.32" cy="23.22" r="2.35" fill="#2ca02c"/>
<circle cx="555.08" cy="25.73" r="2.35" fill="#2ca02c"/>
<circle cx="557.84" cy="27.93" r="2.35" fill="#2ca02c"/>
<circle cx="560.6" cy="31.38" r="2.35" fill="#2ca02c"/>
<circle cx="563.36" cy="36.4" r="2.35" fill="#2ca02c"/>
<circle cx="570.26" cy="54.62" r="2.35" fill="#2ca02c"/>
<circle cx="577.16" cy="74.08" r="2.35" fill="#2ca02c"/>
<circle cx="584.07" cy="89.16" r="2.35" fill="#2ca02c"/>
<circle cx="590.97" cy="104.23" r="2.35" fill="#2ca02c"/>
<circle cx="597.87" cy="118.17" r="2.35" fill="#2ca02c"/>
<circle cx="604.77" cy="129.72" r="2.35" fill="#2ca02c"/>
<circle cx="611.68" cy="139.52" r="2.35" fill="#2ca02c"/>
<circle cx="618.58" cy="146.99" r="2.35" fill="#2ca02c"/>
<circle cx="625.48" cy="154.41" r="2.35" fill="#2ca02c"/>
<circle cx="632.38" cy="160.18" r="2.35" fill="#2ca02c"/>
<circle cx="639.29" cy="164.52" r="2.35" fill="#2ca02c"/>
<circle cx="646.19" cy="168.6" r="2.35" fill="#2ca02c"/>
<circle cx="653.09" cy="172.62" r="2.35" fill="#2ca02c"/>
<circle cx="659.99" cy="175.32" r="2.35" fill="#2ca02c"/>
<circle cx="666.9" cy="177.89" r="2.35" fill="#2ca02c"/>
<polyline points="397.7,188.03 404.6,187.66 411.5,187.9 418.41,187.8 425.31,188 432.21,187.93 439.11,187.92 446.02,187.89 452.92,188.07 459.82,187.74 466.72,187.98 473.63,187.76 480.53,187.74 487.43,187.69 494.33,187.89 501.24,187.89 508.14,187.65 515.04,187.82 521.94,187.94 524.71,187.56 527.47,188 530.23,187.56 532.99,187.75 535.75,186.5 538.51,183.36 541.27,175.19 544.03,155.1 546.79,113.02 549.55,62.78 552.32,32.64 555.08,9.4 557.84,15.68 560.6,19.01 563.36,26.98 570.26,47.08 577.16,69.06 584.07,86.64 590.97,101.78 597.87,116.79 604.77,129.72 611.68,139.52 618.58,146.99 625.48,154.41 632.38,160.18 639.29,164.52 646.19,168.6 653.09,172.62 659.99,175.32 666.9,177.89" fill="none" stroke="#d62728" stroke-width="1.8" stroke-linejoin="round" stroke-linecap="round" />
<circle cx="397.7" cy="188.03" r="2.35" fill="#d62728"/>
<circle cx="404.6" cy="187.66" r="2.35" fill="#d62728"/>
<circle cx="411.5" cy="187.9" r="2.35" fill="#d62728"/>
<circle cx="418.41" cy="187.8" r="2.35" fill="#d62728"/>
<circle cx="425.31" cy="188" r="2.35" fill="#d62728"/>
<circle cx="432.21" cy="187.93" r="2.35" fill="#d62728"/>
<circle cx="439.11" cy="187.92" r="2.35" fill="#d62728"/>
<circle cx="446.02" cy="187.89" r="2.35" fill="#d62728"/>
<circle cx="452.92" cy="188.07" r="2.35" fill="#d62728"/>
<circle cx="459.82" cy="187.74" r="2.35" fill="#d62728"/>
<circle cx="466.72" cy="187.98" r="2.35" fill="#d62728"/>
<circle cx="473.63" cy="187.76" r="2.35" fill="#d62728"/>
<circle cx="480.53" cy="187.74" r="2.35" fill="#d62728"/>
<circle cx="487.43" cy="187.69" r="2.35" fill="#d62728"/>
<circle cx="494.33" cy="187.89" r="2.35" fill="#d62728"/>
<circle cx="501.24" cy="187.89" r="2.35" fill="#d62728"/>
<circle cx="508.14" cy="187.65" r="2.35" fill="#d62728"/>
<circle cx="515.04" cy="187.82" r="2.35" fill="#d62728"/>
<circle cx="521.94" cy="187.94" r="2.35" fill="#d62728"/>
<circle cx="524.71" cy="187.56" r="2.35" fill="#d62728"/>
<circle cx="527.47" cy="188" r="2.35" fill="#d62728"/>
<circle cx="530.23" cy="187.56" r="2.35" fill="#d62728"/>
<circle cx="532.99" cy="187.75" r="2.35" fill="#d62728"/>
<circle cx="535.75" cy="186.5" r="2.35" fill="#d62728"/>
<circle cx="538.51" cy="183.36" r="2.35" fill="#d62728"/>
<circle cx="541.27" cy="175.19" r="2.35" fill="#d62728"/>
<circle cx="544.03" cy="155.1" r="2.35" fill="#d62728"/>
<circle cx="546.79" cy="113.02" r="2.35" fill="#d62728"/>
<circle cx="549.55" cy="62.78" r="2.35" fill="#d62728"/>
<circle cx="552.32" cy="32.64" r="2.35" fill="#d62728"/>
<circle cx="555.08" cy="9.4" r="2.35" fill="#d62728"/>
<circle cx="557.84" cy="15.68" r="2.35" fill="#d62728"/>
<circle cx="560.6" cy="19.01" r="2.35" fill="#d62728"/>
<circle cx="563.36" cy="26.98" r="2.35" fill="#d62728"/>
<circle cx="570.26" cy="47.08" r="2.35" fill="#d62728"/>
<circle cx="577.16" cy="69.06" r="2.35" fill="#d62728"/>
<circle cx="584.07" cy="86.64" r="2.35" fill="#d62728"/>
<circle cx="590.97" cy="101.78" r="2.35" fill="#d62728"/>
<circle cx="597.87" cy="116.79" r="2.35" fill="#d62728"/>
<circle cx="604.77" cy="129.72" r="2.35" fill="#d62728"/>
<circle cx="611.68" cy="139.52" r="2.35" fill="#d62728"/>
<circle cx="618.58" cy="146.99" r="2.35" fill="#d62728"/>
<circle cx="625.48" cy="154.41" r="2.35" fill="#d62728"/>
<circle cx="632.38" cy="160.18" r="2.35" fill="#d62728"/>
<circle cx="639.29" cy="164.52" r="2.35" fill="#d62728"/>
<circle cx="646.19" cy="168.6" r="2.35" fill="#d62728"/>
<circle cx="653.09" cy="172.62" r="2.35" fill="#d62728"/>
<circle cx="659.99" cy="175.32" r="2.35" fill="#d62728"/>
<circle cx="666.9" cy="177.89" r="2.35" fill="#d62728"/>
<polyline points="397.7,187.85 404.6,187.97 411.5,187.8 418.41,187.77 425.31,187.84 432.21,187.93 439.11,187.86 446.02,188.04 452.92,187.93 459.82,188 466.72,187.73 473.63,187.58 480.53,187.97 487.43,188.03 494.33,187.67 501.24,187.85 508.14,187.77 515.04,187.99 521.94,187.92 524.71,187.66 527.47,187.7 530.23,187.58 532.99,187.75 535.75,187.12 538.51,185.24 541.27,180.84 544.03,170.8 546.79,147.56 549.55,94.18 552.32,42.68 555.08,17.56 557.84,16.94 560.6,21.02 563.36,29.5 570.26,49.59 577.16,72.2 584.07,89.78 590.97,105.11 597.87,118.17 604.77,129.72 611.68,139.52 618.58,146.99 625.48,154.41 632.38,160.18 639.29,164.52 646.19,168.6 653.09,172.62 659.99,175.32 666.9,177.89" fill="none" stroke="#9467bd" stroke-width="1.8" stroke-linejoin="round" stroke-linecap="round" />
<circle cx="397.7" cy="187.85" r="2.35" fill="#9467bd"/>
<circle cx="404.6" cy="187.97" r="2.35" fill="#9467bd"/>
<circle cx="411.5" cy="187.8" r="2.35" fill="#9467bd"/>
<circle cx="418.41" cy="187.77" r="2.35" fill="#9467bd"/>
<circle cx="425.31" cy="187.84" r="2.35" fill="#9467bd"/>
<circle cx="432.21" cy="187.93" r="2.35" fill="#9467bd"/>
<circle cx="439.11" cy="187.86" r="2.35" fill="#9467bd"/>
<circle cx="446.02" cy="188.04" r="2.35" fill="#9467bd"/>
<circle cx="452.92" cy="187.93" r="2.35" fill="#9467bd"/>
<circle cx="459.82" cy="188" r="2.35" fill="#9467bd"/>
<circle cx="466.72" cy="187.73" r="2.35" fill="#9467bd"/>
<circle cx="473.63" cy="187.58" r="2.35" fill="#9467bd"/>
<circle cx="480.53" cy="187.97" r="2.35" fill="#9467bd"/>
<circle cx="487.43" cy="188.03" r="2.35" fill="#9467bd"/>
<circle cx="494.33" cy="187.67" r="2.35" fill="#9467bd"/>
<circle cx="501.24" cy="187.85" r="2.35" fill="#9467bd"/>
<circle cx="508.14" cy="187.77" r="2.35" fill="#9467bd"/>
<circle cx="515.04" cy="187.99" r="2.35" fill="#9467bd"/>
<circle cx="521.94" cy="187.92" r="2.35" fill="#9467bd"/>
<circle cx="524.71" cy="187.66" r="2.35" fill="#9467bd"/>
<circle cx="527.47" cy="187.7" r="2.35" fill="#9467bd"/>
<circle cx="530.23" cy="187.58" r="2.35" fill="#9467bd"/>
<circle cx="532.99" cy="187.75" r="2.35" fill="#9467bd"/>
<circle cx="535.75" cy="187.12" r="2.35" fill="#9467bd"/>
<circle cx="538.51" cy="185.24" r="2.35" fill="#9467bd"/>
<circle cx="541.27" cy="180.84" r="2.35" fill="#9467bd"/>
<circle cx="544.03" cy="170.8" r="2.35" fill="#9467bd"/>
<circle cx="546.79" cy="147.56" r="2.35" fill="#9467bd"/>
<circle cx="549.55" cy="94.18" r="2.35" fill="#9467bd"/>
<circle cx="552.32" cy="42.68" r="2.35" fill="#9467bd"/>
<circle cx="555.08" cy="17.56" r="2.35" fill="#9467bd"/>
<circle cx="557.84" cy="16.94" r="2.35" fill="#9467bd"/>
<circle cx="560.6" cy="21.02" r="2.35" fill="#9467bd"/>
<circle cx="563.36" cy="29.5" r="2.35" fill="#9467bd"/>
<circle cx="570.26" cy="49.59" r="2.35" fill="#9467bd"/>
<circle cx="577.16" cy="72.2" r="2.35" fill="#9467bd"/>
<circle cx="584.07" cy="89.78" r="2.35" fill="#9467bd"/>
<circle cx="590.97" cy="105.11" r="2.35" fill="#9467bd"/>
<circle cx="597.87" cy="118.17" r="2.35" fill="#9467bd"/>
<circle cx="604.77" cy="129.72" r="2.35" fill="#9467bd"/>
<circle cx="611.68" cy="139.52" r="2.35" fill="#9467bd"/>
<circle cx="618.58" cy="146.99" r="2.35" fill="#9467bd"/>
<circle cx="625.48" cy="154.41" r="2.35" fill="#9467bd"/>
<circle cx="632.38" cy="160.18" r="2.35" fill="#9467bd"/>
<circle cx="639.29" cy="164.52" r="2.35" fill="#9467bd"/>
<circle cx="646.19" cy="168.6" r="2.35" fill="#9467bd"/>
<circle cx="653.09" cy="172.62" r="2.35" fill="#9467bd"/>
<circle cx="659.99" cy="175.32" r="2.35" fill="#9467bd"/>
<circle cx="666.9" cy="177.89" r="2.35" fill="#9467bd"/>
</g>
<rect x="402.9" y="5.7" width="80.6" height="72.7" rx="2" ry="2" fill="#fff" fill-opacity="0.8" stroke="#d6d6d6" stroke-width="0.9"/>
<line x1="405.9" y1="13.4" x2="427.3" y2="13.4" stroke="#1f77b4" stroke-width="1.9"/>
<circle cx="416.6" cy="13.4" r="2.45" fill="#1f77b4"/>
<text x="434.7" y="16.8" font-size="9.8" text-anchor="start" class="lg">Nodes: 49</text>
<line x1="405.9" y1="27.27" x2="427.3" y2="27.27" stroke="#ff7f0e" stroke-width="1.9"/>
<circle cx="416.6" cy="27.27" r="2.45" fill="#ff7f0e"/>
<text x="434.7" y="30.67" font-size="9.8" text-anchor="start" class="lg">Nodes: 100</text>
<line x1="405.9" y1="41.14" x2="427.3" y2="41.14" stroke="#2ca02c" stroke-width="1.9"/>
<circle cx="416.6" cy="41.14" r="2.45" fill="#2ca02c"/>
<text x="434.7" y="44.54" font-size="9.8" text-anchor="start" class="lg">Nodes: 196</text>
<line x1="405.9" y1="55.01" x2="427.3" y2="55.01" stroke="#d62728" stroke-width="1.9"/>
<circle cx="416.6" cy="55.01" r="2.45" fill="#d62728"/>
<text x="434.7" y="58.41" font-size="9.8" text-anchor="start" class="lg">Nodes: 400</text>
<line x1="405.9" y1="68.88" x2="427.3" y2="68.88" stroke="#9467bd" stroke-width="1.9"/>
<circle cx="416.6" cy="68.88" r="2.45" fill="#9467bd"/>
<text x="434.7" y="72.28" font-size="9.8" text-anchor="start" class="lg">Nodes: 784</text>
<line x1="673.6" y1="0.3" x2="673.6" y2="197.5" stroke="#8a8a8a" stroke-width="1"/>
<line x1="397.1" y1="0.3" x2="674.1" y2="0.3" stroke="#8a8a8a" stroke-width="1"/>
<line x1="397.6" y1="-0.2" x2="397.6" y2="198" stroke="#595959" stroke-width="1"/>
<line x1="397.1" y1="197.5" x2="674.1" y2="197.5" stroke="#595959" stroke-width="1"/>
<line x1="397.7" y1="197.5" x2="397.7" y2="200.4" stroke="#595959" stroke-width="0.9"/>
<text transform="translate(397.7,211) scale(0.955,1)" font-size="13.6" text-anchor="middle" >0.40</text>
<line x1="466.72" y1="197.5" x2="466.72" y2="200.4" stroke="#595959" stroke-width="0.9"/>
<text transform="translate(466.72,211) scale(0.955,1)" font-size="13.6" text-anchor="middle" >0.45</text>
<line x1="535.75" y1="197.5" x2="535.75" y2="200.4" stroke="#595959" stroke-width="0.9"/>
<text transform="translate(535.75,211) scale(0.955,1)" font-size="13.6" text-anchor="middle" >0.50</text>
<line x1="604.77" y1="197.5" x2="604.77" y2="200.4" stroke="#595959" stroke-width="0.9"/>
<text transform="translate(604.77,211) scale(0.955,1)" font-size="13.6" text-anchor="middle" >0.55</text>
<line x1="673.8" y1="197.5" x2="673.8" y2="200.4" stroke="#595959" stroke-width="0.9"/>
<text transform="translate(673.8,211) scale(0.955,1)" font-size="13.6" text-anchor="middle" >0.60</text>
<line x1="394.8" y1="166.4" x2="397.7" y2="166.4" stroke="#595959" stroke-width="0.9"/>
<text transform="translate(393.3,171.1) scale(0.955,1)" font-size="13.6" text-anchor="end" >5</text>
<line x1="394.8" y1="135" x2="397.7" y2="135" stroke="#595959" stroke-width="0.9"/>
<text transform="translate(393.3,139.7) scale(0.955,1)" font-size="13.6" text-anchor="end" >10</text>
<line x1="394.8" y1="103.6" x2="397.7" y2="103.6" stroke="#595959" stroke-width="0.9"/>
<text transform="translate(393.3,108.3) scale(0.955,1)" font-size="13.6" text-anchor="end" >15</text>
<line x1="394.8" y1="72.2" x2="397.7" y2="72.2" stroke="#595959" stroke-width="0.9"/>
<text transform="translate(393.3,76.9) scale(0.955,1)" font-size="13.6" text-anchor="end" >20</text>
<line x1="394.8" y1="40.8" x2="397.7" y2="40.8" stroke="#595959" stroke-width="0.9"/>
<text transform="translate(393.3,45.5) scale(0.955,1)" font-size="13.6" text-anchor="end" >25</text>
<line x1="394.8" y1="9.4" x2="397.7" y2="9.4" stroke="#595959" stroke-width="0.9"/>
<text transform="translate(393.3,14.1) scale(0.955,1)" font-size="13.6" text-anchor="end" >30</text>
<text transform="translate(535.6,224.7) scale(0.93,1)" font-size="13.5" text-anchor="middle" font-style="italic">q</text>
<text transform="translate(374.4,98.8) rotate(-90)" font-size="14.6" font-style="italic" text-anchor="middle">S</text>
<text transform="translate(666.4,24.6) scale(0.93,1)" font-size="16.8" text-anchor="end" font-weight="bold">b)</text>
<g clip-path="url(#cc)">
<polyline points="42.5,354.26 49.38,354.26 56.25,354.26 63.13,354.26 70,354.26 76.88,354.16 83.75,354.06 90.63,353.96 97.5,353.66 104.38,353.26 111.25,346.83 118.13,327.33 125,288.54 131.87,265.42 138.75,266.03 145.62,278.29 152.5,295.97 159.37,307.63 166.25,319.29 173.12,326.53 180,334.37 186.87,333.96 193.75,334.37 200.62,335.57 207.5,337.78 214.38,341.6 221.25,346.02 228.12,348.24 235,349.84 241.88,350.85 248.75,351.65 255.63,352.46 262.5,352.25 269.38,352.46 276.25,352.46 283.13,352.46 290,352.66 296.88,352.66 303.75,352.86 310.62,353.06" fill="none" stroke="#1f77b4" stroke-width="1.8" stroke-linejoin="round" stroke-linecap="round" />
<circle cx="42.5" cy="354.26" r="2.35" fill="#1f77b4"/>
<circle cx="49.38" cy="354.26" r="2.35" fill="#1f77b4"/>
<circle cx="56.25" cy="354.26" r="2.35" fill="#1f77b4"/>
<circle cx="63.13" cy="354.26" r="2.35" fill="#1f77b4"/>
<circle cx="70" cy="354.26" r="2.35" fill="#1f77b4"/>
<circle cx="76.88" cy="354.16" r="2.35" fill="#1f77b4"/>
<circle cx="83.75" cy="354.06" r="2.35" fill="#1f77b4"/>
<circle cx="90.63" cy="353.96" r="2.35" fill="#1f77b4"/>
<circle cx="97.5" cy="353.66" r="2.35" fill="#1f77b4"/>
<circle cx="104.38" cy="353.26" r="2.35" fill="#1f77b4"/>
<circle cx="111.25" cy="346.83" r="2.35" fill="#1f77b4"/>
<circle cx="118.13" cy="327.33" r="2.35" fill="#1f77b4"/>
<circle cx="125" cy="288.54" r="2.35" fill="#1f77b4"/>
<circle cx="131.87" cy="265.42" r="2.35" fill="#1f77b4"/>
<circle cx="138.75" cy="266.03" r="2.35" fill="#1f77b4"/>
<circle cx="145.62" cy="278.29" r="2.35" fill="#1f77b4"/>
<circle cx="152.5" cy="295.97" r="2.35" fill="#1f77b4"/>
<circle cx="159.37" cy="307.63" r="2.35" fill="#1f77b4"/>
<circle cx="166.25" cy="319.29" r="2.35" fill="#1f77b4"/>
<circle cx="173.12" cy="326.53" r="2.35" fill="#1f77b4"/>
<circle cx="180" cy="334.37" r="2.35" fill="#1f77b4"/>
<circle cx="186.87" cy="333.96" r="2.35" fill="#1f77b4"/>
<circle cx="193.75" cy="334.37" r="2.35" fill="#1f77b4"/>
<circle cx="200.62" cy="335.57" r="2.35" fill="#1f77b4"/>
<circle cx="207.5" cy="337.78" r="2.35" fill="#1f77b4"/>
<circle cx="214.38" cy="341.6" r="2.35" fill="#1f77b4"/>
<circle cx="221.25" cy="346.02" r="2.35" fill="#1f77b4"/>
<circle cx="228.12" cy="348.24" r="2.35" fill="#1f77b4"/>
<circle cx="235" cy="349.84" r="2.35" fill="#1f77b4"/>
<circle cx="241.88" cy="350.85" r="2.35" fill="#1f77b4"/>
<circle cx="248.75" cy="351.65" r="2.35" fill="#1f77b4"/>
<circle cx="255.63" cy="352.46" r="2.35" fill="#1f77b4"/>
<circle cx="262.5" cy="352.25" r="2.35" fill="#1f77b4"/>
<circle cx="269.38" cy="352.46" r="2.35" fill="#1f77b4"/>
<circle cx="276.25" cy="352.46" r="2.35" fill="#1f77b4"/>
<circle cx="283.13" cy="352.46" r="2.35" fill="#1f77b4"/>
<circle cx="290" cy="352.66" r="2.35" fill="#1f77b4"/>
<circle cx="296.88" cy="352.66" r="2.35" fill="#1f77b4"/>
<circle cx="303.75" cy="352.86" r="2.35" fill="#1f77b4"/>
<circle cx="310.62" cy="353.06" r="2.35" fill="#1f77b4"/>
<polygon points="42.5,435.68 45.94,435.66 49.38,435.64 52.81,435.62 56.25,435.61 59.69,435.59 63.13,435.57 66.56,435.56 70,435.54 73.44,435.52 76.88,435.5 80.31,435.49 83.75,435.47 87.19,435.45 90.63,435.43 94.06,435.01 97.5,434.58 100.94,433.12 104.38,431.66 107.81,427.41 111.25,423.15 114.69,415.25 118.13,407.34 121.56,398.83 125,390.32 128.44,387.28 131.87,384.24 135.31,385.27 138.75,386.31 142.19,389.83 145.62,393.36 149.06,396.1 152.5,398.83 155.94,402.48 159.37,406.13 162.81,408.56 166.25,410.99 169.69,415.25 173.12,419.5 176.56,422.24 180,424.98 183.44,427.41 186.87,429.84 190.31,431.97 193.75,434.1 197.19,434.83 200.62,435.56 204.06,436.28 207.5,437.01 210.94,437.11 214.38,437.2 217.81,437.29 221.25,437.38 224.69,437.47 228.12,437.56 231.56,437.65 235,437.74 238.44,437.59 241.88,437.44 245.31,437.29 248.75,437.14 252.19,436.93 255.63,436.73 259.06,436.53 262.5,436.33 265.94,436.12 269.38,435.92 272.81,435.91 276.25,435.9 279.69,435.89 283.13,435.88 286.56,435.87 290,435.86 293.44,435.85 296.88,435.84 300.31,435.83 303.75,435.82 307.19,435.81 310.62,435.8 310.62,437.99 307.19,438.02 303.75,438.05 300.31,438.08 296.88,438.11 293.44,438.14 290,438.17 286.56,438.2 283.13,438.23 279.69,438.26 276.25,438.29 272.81,438.32 269.38,438.35 265.94,438.6 262.5,438.84 259.06,439.08 255.63,439.32 252.19,439.57 248.75,439.81 245.31,440.15 241.88,440.48 238.44,440.81 235,441.15 231.56,441.18 228.12,441.21 224.69,441.24 221.25,441.27 217.81,441.3 214.38,441.33 210.94,441.36 207.5,441.39 204.06,441.18 200.62,440.97 197.19,440.75 193.75,440.54 190.31,439.45 186.87,438.35 183.44,436.83 180,435.31 176.56,433.18 173.12,431.06 169.69,426.8 166.25,422.54 162.81,420.42 159.37,418.29 155.94,414.94 152.5,411.6 149.06,408.86 145.62,406.13 142.19,404 138.75,401.87 135.31,401.57 131.87,401.26 128.44,405.52 125,409.78 121.56,417.68 118.13,425.58 114.69,429.84 111.25,434.1 107.81,435.01 104.38,435.92 100.94,436.47 97.5,437.01 94.06,437.32 90.63,437.62 87.19,437.64 83.75,437.66 80.31,437.67 76.88,437.69 73.44,437.71 70,437.73 66.56,437.74 63.13,437.76 59.69,437.78 56.25,437.8 52.81,437.81 49.38,437.83 45.94,437.85 42.5,437.87" fill="#1f77b4" fill-opacity="0.3" stroke="none"/>
<polygon points="42.5,435.68 45.94,435.68 49.38,435.68 52.81,435.68 56.25,435.68 59.69,435.68 63.13,435.68 66.56,435.68 70,435.68 73.44,435.68 76.88,435.68 80.31,435.68 83.75,435.68 87.19,435.68 90.63,435.68 94.06,435.68 97.5,435.68 100.94,435.74 104.38,435.8 107.81,435.86 111.25,435.92 114.69,435.31 118.13,434.7 121.56,433.79 125,432.88 128.44,432.27 131.87,431.66 135.31,429.84 138.75,428.02 142.19,426.8 145.62,425.58 149.06,424.67 152.5,423.76 155.94,423.7 159.37,423.64 162.81,424.12 166.25,424.61 169.69,425.22 173.12,425.83 176.56,426.56 180,427.29 183.44,428.56 186.87,429.84 190.31,431.06 193.75,432.27 197.19,432.88 200.62,433.49 204.06,434.1 207.5,434.7 210.94,434.92 214.38,435.13 217.81,435.34 221.25,435.56 224.69,435.77 228.12,435.98 231.56,436.19 235,436.41 238.44,436.36 241.88,436.32 245.31,436.27 248.75,436.22 252.19,436.18 255.63,436.13 259.06,436.09 262.5,436.04 265.94,436.02 269.38,435.99 272.81,435.96 276.25,435.94 279.69,435.91 283.13,435.89 286.56,435.86 290,435.83 293.44,435.81 296.88,435.78 300.31,435.75 303.75,435.73 307.19,435.7 310.62,435.68 310.62,438.11 307.19,438.15 303.75,438.2 300.31,438.24 296.88,438.28 293.44,438.33 290,438.37 286.56,438.41 283.13,438.46 279.69,438.5 276.25,438.54 272.81,438.59 269.38,438.63 265.94,438.67 262.5,438.72 259.06,438.87 255.63,439.02 252.19,439.17 248.75,439.32 245.31,439.48 241.88,439.63 238.44,439.78 235,439.93 231.56,439.96 228.12,439.99 224.69,440.02 221.25,440.05 217.81,440.08 214.38,440.12 210.94,440.15 207.5,440.18 204.06,440.02 200.62,439.87 197.19,439.72 193.75,439.57 190.31,439.26 186.87,438.96 183.44,438.66 180,438.35 176.56,438.35 173.12,438.35 169.69,438.35 166.25,438.35 162.81,438.66 159.37,438.96 155.94,438.96 152.5,438.96 149.06,440.78 145.62,442.61 142.19,443.82 138.75,445.04 135.31,445.53 131.87,446.01 128.44,445.83 125,445.65 121.56,444.74 118.13,443.82 114.69,442.3 111.25,440.78 107.81,439.87 104.38,438.96 100.94,438.53 97.5,438.11 94.06,438.11 90.63,438.11 87.19,438.11 83.75,438.11 80.31,438.11 76.88,438.11 73.44,438.11 70,438.11 66.56,438.11 63.13,438.11 59.69,438.11 56.25,438.11 52.81,438.11 49.38,438.11 45.94,438.11 42.5,438.11" fill="#ff7f0e" fill-opacity="0.3" stroke="none"/>
<polygon points="42.5,436.28 45.94,436.27 49.38,436.25 52.81,436.23 56.25,436.21 59.69,436.2 63.13,436.18 66.56,436.16 70,436.14 73.44,436.13 76.88,436.11 80.31,436.09 83.75,436.07 87.19,436.05 90.63,436.04 94.06,436.02 97.5,436 100.94,436.36 104.38,436.71 107.81,437.92 111.25,439.12 114.69,440.94 118.13,442.75 121.56,444.87 125,446.99 128.44,448.82 131.87,450.66 135.31,451.96 138.75,453.25 142.19,453.99 145.62,454.74 149.06,454.87 152.5,455.01 155.94,454.77 159.37,454.53 162.81,453.38 166.25,452.22 169.69,450.04 173.12,447.85 176.56,445.54 180,443.24 183.44,441.17 186.87,439.11 190.31,437.83 193.75,436.56 197.19,435.83 200.62,435.11 204.06,434.87 207.5,434.62 210.94,434.64 214.38,434.65 217.81,434.67 221.25,434.68 224.69,434.7 228.12,434.71 231.56,434.73 235,434.74 238.44,434.76 241.88,434.77 245.31,434.9 248.75,435.02 252.19,435.15 255.63,435.27 259.06,435.39 262.5,435.52 265.94,435.58 269.38,435.65 272.81,435.71 276.25,435.77 279.69,435.84 283.13,435.9 286.56,435.92 290,435.93 293.44,435.95 296.88,435.97 300.31,435.99 303.75,436.01 307.19,436.02 310.62,436.04 310.62,437.74 307.19,437.73 303.75,437.72 300.31,437.71 296.88,437.69 293.44,437.68 290,437.67 286.56,437.66 283.13,437.64 279.69,437.59 276.25,437.53 272.81,437.47 269.38,437.41 265.94,437.35 262.5,437.29 259.06,437.18 255.63,437.06 252.19,436.94 248.75,436.82 245.31,436.7 241.88,436.58 238.44,436.57 235,436.56 231.56,436.55 228.12,436.54 224.69,436.53 221.25,436.52 217.81,436.51 214.38,436.5 210.94,436.5 207.5,436.49 204.06,436.73 200.62,436.98 197.19,437.71 193.75,438.44 190.31,439.72 186.87,441 183.44,443.07 180,445.14 176.56,447.45 173.12,449.77 169.69,451.96 166.25,454.15 162.81,455.31 159.37,456.47 155.94,456.71 152.5,456.96 149.06,456.85 145.62,456.74 142.19,456.03 138.75,455.32 135.31,454.05 131.87,452.79 128.44,450.98 125,449.17 121.56,447.04 118.13,444.9 114.69,443.06 111.25,441.23 107.81,440 104.38,438.78 100.94,438.4 97.5,438.03 94.06,438.03 90.63,438.02 87.19,438.02 83.75,438.02 80.31,438.02 76.88,438.01 73.44,438.01 70,438.01 66.56,438 63.13,438 59.69,438 56.25,438 52.81,437.99 49.38,437.99 45.94,437.99 42.5,437.99" fill="#2ca02c" fill-opacity="0.3" stroke="none"/>
<polyline points="42.5,436.41 45.94,436.4 49.38,436.39 52.81,436.38 56.25,436.37 59.69,436.36 63.13,436.35 66.56,436.35 70,436.34 73.44,436.33 76.88,436.32 80.31,436.31 83.75,436.3 87.19,436.29 90.63,436.28 94.06,436.04 97.5,435.8 100.94,434.95 104.38,434.1 107.81,431.91 111.25,429.72 114.69,424 118.13,418.29 121.56,410.32 125,402.36 128.44,397.37 131.87,392.39 135.31,392.75 138.75,393.12 142.19,396.34 145.62,399.56 149.06,402.66 152.5,405.76 155.94,409.23 159.37,412.69 162.81,415 166.25,417.32 169.69,421.33 173.12,425.34 176.56,427.89 180,430.45 183.44,432.33 186.87,434.22 190.31,435.8 193.75,437.38 197.19,438.17 200.62,438.96 204.06,439.2 207.5,439.45 210.94,439.45 214.38,439.45 217.81,439.45 221.25,439.45 224.69,439.45 228.12,439.45 231.56,439.45 235,439.45 238.44,439.17 241.88,438.9 245.31,438.63 248.75,438.35 252.19,438.15 255.63,437.95 259.06,437.74 262.5,437.54 265.94,437.34 269.38,437.14 272.81,437.12 276.25,437.1 279.69,437.08 283.13,437.05 286.56,437.03 290,437.01 293.44,436.99 296.88,436.97 300.31,436.95 303.75,436.93 307.19,436.91 310.62,436.89" fill="none" stroke="#1f77b4" stroke-width="1.7" stroke-linejoin="round" stroke-linecap="round" />
<path d="M40.6 434.51L44.4 438.31M40.6 438.31L44.4 434.51M47.48 434.49L51.28 438.29M47.48 438.29L51.28 434.49M54.35 434.47L58.15 438.27M54.35 438.27L58.15 434.47M61.23 434.45L65.03 438.25M61.23 438.25L65.03 434.45M68.1 434.44L71.9 438.24M68.1 438.24L71.9 434.44M74.98 434.42L78.78 438.22M74.98 438.22L78.78 434.42M81.85 434.4L85.65 438.2M81.85 438.2L85.65 434.4M88.73 434.38L92.53 438.18M88.73 438.18L92.53 434.38M95.6 433.9L99.4 437.7M95.6 437.7L99.4 433.9M102.48 432.2L106.28 436M102.48 436L106.28 432.2M109.35 427.82L113.15 431.62M109.35 431.62L113.15 427.82M116.23 416.39L120.03 420.19M116.23 420.19L120.03 416.39M123.1 400.46L126.9 404.26M123.1 404.26L126.9 400.46M129.97 390.49L133.77 394.29M129.97 394.29L133.77 390.49M136.85 391.22L140.65 395.02M136.85 395.02L140.65 391.22M143.72 397.66L147.52 401.46M143.72 401.46L147.52 397.66M150.6 403.86L154.4 407.66M150.6 407.66L154.4 403.86M157.47 410.79L161.27 414.59M157.47 414.59L161.27 410.79M164.35 415.42L168.15 419.22M164.35 419.22L168.15 415.42M171.22 423.44L175.02 427.24M171.22 427.24L175.02 423.44M178.1 428.55L181.9 432.35M178.1 432.35L181.9 428.55M184.97 432.32L188.77 436.12M184.97 436.12L188.77 432.32M191.85 435.48L195.65 439.28M191.85 439.28L195.65 435.48M198.72 437.06L202.53 440.86M198.72 440.86L202.53 437.06M205.6 437.55L209.4 441.35M205.6 441.35L209.4 437.55M212.47 437.55L216.28 441.35M212.47 441.35L216.28 437.55M219.35 437.55L223.15 441.35M219.35 441.35L223.15 437.55M226.22 437.55L230.03 441.35M226.22 441.35L230.03 437.55M233.1 437.55L236.9 441.35M233.1 441.35L236.9 437.55M239.98 437L243.78 440.8M239.98 440.8L243.78 437M246.85 436.45L250.65 440.25M246.85 440.25L250.65 436.45M253.73 436.05L257.53 439.85M253.73 439.85L257.53 436.05M260.6 435.64L264.4 439.44M260.6 439.44L264.4 435.64M267.48 435.24L271.28 439.04M267.48 439.04L271.28 435.24M274.35 435.2L278.15 439M274.35 439L278.15 435.2M281.23 435.15L285.03 438.95M281.23 438.95L285.03 435.15M288.1 435.11L291.9 438.91M288.1 438.91L291.9 435.11M294.98 435.07L298.78 438.87M294.98 438.87L298.78 435.07M301.85 435.03L305.65 438.83M301.85 438.83L305.65 435.03M308.72 434.99L312.52 438.79M308.72 438.79L312.52 434.99" stroke="#1f77b4" stroke-width="0.95" fill="none"/>
<polyline points="42.5,437.38 45.94,437.37 49.38,437.36 52.81,437.36 56.25,437.35 59.69,437.34 63.13,437.33 66.56,437.33 70,437.32 73.44,437.31 76.88,437.3 80.31,437.3 83.75,437.29 87.19,437.28 90.63,437.27 94.06,437.27 97.5,437.26 100.94,437.32 104.38,437.38 107.81,437.74 111.25,438.11 114.69,438.84 118.13,439.57 121.56,440.6 125,441.64 128.44,442.18 131.87,442.73 135.31,440.72 138.75,438.72 142.19,437.62 145.62,436.53 149.06,436.16 152.5,435.8 155.94,433.73 159.37,431.66 162.81,431.42 166.25,431.18 169.69,431.79 173.12,432.39 176.56,433.37 180,434.34 183.44,435.31 186.87,436.28 190.31,436.71 193.75,437.14 197.19,437.44 200.62,437.74 204.06,437.93 207.5,438.11 210.94,438.12 214.38,438.13 217.81,438.15 221.25,438.16 224.69,438.17 228.12,438.18 231.56,438.19 235,438.21 238.44,438.22 241.88,438.23 245.31,438.09 248.75,437.95 252.19,437.8 255.63,437.66 259.06,437.52 262.5,437.38 265.94,437.3 269.38,437.22 272.81,437.14 276.25,437.05 279.69,436.97 283.13,436.89 286.56,436.89 290,436.89 293.44,436.89 296.88,436.89 300.31,436.89 303.75,436.89 307.19,436.89 310.62,436.89" fill="none" stroke="#ff7f0e" stroke-width="1.7" stroke-linejoin="round" stroke-linecap="round" />
<path d="M40.6 435.48L44.4 439.28M40.6 439.28L44.4 435.48M44.04 435.47L47.84 439.27M44.04 439.27L47.84 435.47M47.48 435.46L51.28 439.26M47.48 439.26L51.28 435.46M50.91 435.46L54.71 439.26M50.91 439.26L54.71 435.46M54.35 435.45L58.15 439.25M54.35 439.25L58.15 435.45M57.79 435.44L61.59 439.24M57.79 439.24L61.59 435.44M61.23 435.43L65.03 439.23M61.23 439.23L65.03 435.43M64.66 435.43L68.46 439.23M64.66 439.23L68.46 435.43M68.1 435.42L71.9 439.22M68.1 439.22L71.9 435.42M71.54 435.41L75.34 439.21M71.54 439.21L75.34 435.41M74.98 435.4L78.78 439.2M74.98 439.2L78.78 435.4M78.41 435.4L82.21 439.2M78.41 439.2L82.21 435.4M81.85 435.39L85.65 439.19M81.85 439.19L85.65 435.39M85.29 435.38L89.09 439.18M85.29 439.18L89.09 435.38M88.73 435.37L92.53 439.17M88.73 439.17L92.53 435.37M92.16 435.37L95.96 439.17M92.16 439.17L95.96 435.37M95.6 435.36L99.4 439.16M95.6 439.16L99.4 435.36M99.04 435.42L102.84 439.22M99.04 439.22L102.84 435.42M102.48 435.48L106.28 439.28M102.48 439.28L106.28 435.48M105.91 435.84L109.71 439.64M105.91 439.64L109.71 435.84M109.35 436.21L113.15 440.01M109.35 440.01L113.15 436.21M112.79 436.94L116.59 440.74M112.79 440.74L116.59 436.94M116.23 437.67L120.03 441.47M116.23 441.47L120.03 437.67M119.66 438.7L123.46 442.5M119.66 442.5L123.46 438.7M123.1 439.74L126.9 443.54M123.1 443.54L126.9 439.74M126.54 440.28L130.34 444.08M126.54 444.08L130.34 440.28M129.97 440.83L133.77 444.63M129.97 444.63L133.77 440.83M133.41 438.82L137.21 442.62M133.41 442.62L137.21 438.82M136.85 436.82L140.65 440.62M136.85 440.62L140.65 436.82M140.29 435.72L144.09 439.52M140.29 439.52L144.09 435.72M143.72 434.63L147.52 438.43M143.72 438.43L147.52 434.63M147.16 434.26L150.96 438.06M147.16 438.06L150.96 434.26M150.6 433.9L154.4 437.7M150.6 437.7L154.4 433.9M154.04 431.83L157.84 435.63M154.04 435.63L157.84 431.83M157.47 429.76L161.27 433.56M157.47 433.56L161.27 429.76M160.91 429.52L164.71 433.32M160.91 433.32L164.71 429.52M164.35 429.28L168.15 433.08M164.35 433.08L168.15 429.28M167.79 429.89L171.59 433.69M167.79 433.69L171.59 429.89M171.22 430.49L175.02 434.29M171.22 434.29L175.02 430.49M174.66 431.47L178.46 435.27M174.66 435.27L178.46 431.47M178.1 432.44L181.9 436.24M178.1 436.24L181.9 432.44M181.54 433.41L185.34 437.21M181.54 437.21L185.34 433.41M184.97 434.38L188.77 438.18M184.97 438.18L188.77 434.38M188.41 434.81L192.21 438.61M188.41 438.61L192.21 434.81M191.85 435.24L195.65 439.04M191.85 439.04L195.65 435.24M195.29 435.54L199.09 439.34M195.29 439.34L199.09 435.54M198.72 435.84L202.53 439.64M198.72 439.64L202.53 435.84M202.16 436.03L205.96 439.83M202.16 439.83L205.96 436.03M205.6 436.21L209.4 440.01M205.6 440.01L209.4 436.21M209.04 436.22L212.84 440.02M209.04 440.02L212.84 436.22M212.47 436.23L216.28 440.03M212.47 440.03L216.28 436.23M215.91 436.25L219.71 440.05M215.91 440.05L219.71 436.25M219.35 436.26L223.15 440.06M219.35 440.06L223.15 436.26M222.79 436.27L226.59 440.07M222.79 440.07L226.59 436.27M226.22 436.28L230.03 440.08M226.22 440.08L230.03 436.28M229.66 436.29L233.46 440.09M229.66 440.09L233.46 436.29M233.1 436.31L236.9 440.11M233.1 440.11L236.9 436.31M236.54 436.32L240.34 440.12M236.54 440.12L240.34 436.32M239.98 436.33L243.78 440.13M239.98 440.13L243.78 436.33M243.41 436.19L247.21 439.99M243.41 439.99L247.21 436.19M246.85 436.05L250.65 439.85M246.85 439.85L250.65 436.05M250.29 435.9L254.09 439.7M250.29 439.7L254.09 435.9M253.73 435.76L257.53 439.56M253.73 439.56L257.53 435.76M257.16 435.62L260.96 439.42M257.16 439.42L260.96 435.62M260.6 435.48L264.4 439.28M260.6 439.28L264.4 435.48M264.04 435.4L267.84 439.2M264.04 439.2L267.84 435.4M267.48 435.32L271.28 439.12M267.48 439.12L271.28 435.32M270.91 435.24L274.71 439.04M270.91 439.04L274.71 435.24M274.35 435.15L278.15 438.95M274.35 438.95L278.15 435.15M277.79 435.07L281.59 438.87M277.79 438.87L281.59 435.07M281.23 434.99L285.03 438.79M281.23 438.79L285.03 434.99M284.66 434.99L288.46 438.79M284.66 438.79L288.46 434.99M288.1 434.99L291.9 438.79M288.1 438.79L291.9 434.99M291.54 434.99L295.34 438.79M291.54 438.79L295.34 434.99M294.98 434.99L298.78 438.79M294.98 438.79L298.78 434.99M298.41 434.99L302.21 438.79M298.41 438.79L302.21 434.99M301.85 434.99L305.65 438.79M301.85 438.79L305.65 434.99M305.29 434.99L309.09 438.79M305.29 438.79L309.09 434.99M308.72 434.99L312.52 438.79M308.72 438.79L312.52 434.99" stroke="#ff7f0e" stroke-width="0.95" fill="none"/>
<polyline points="42.5,437.14 45.94,437.13 49.38,437.12 52.81,437.11 56.25,437.11 59.69,437.1 63.13,437.09 66.56,437.08 70,437.08 73.44,437.07 76.88,437.06 80.31,437.05 83.75,437.04 87.19,437.04 90.63,437.03 94.06,437.02 97.5,437.01 100.94,437.38 104.38,437.74 107.81,438.96 111.25,440.18 114.69,442 118.13,443.82 121.56,445.95 125,448.08 128.44,449.9 131.87,451.73 135.31,453 138.75,454.28 142.19,455.01 145.62,455.74 149.06,455.86 152.5,455.98 155.94,455.74 159.37,455.5 162.81,454.34 166.25,453.19 169.69,451 173.12,448.81 176.56,446.5 180,444.19 183.44,442.12 186.87,440.05 190.31,438.78 193.75,437.5 197.19,436.77 200.62,436.04 204.06,435.8 207.5,435.56 210.94,435.57 214.38,435.58 217.81,435.59 221.25,435.6 224.69,435.62 228.12,435.63 231.56,435.64 235,435.65 238.44,435.66 241.88,435.68 245.31,435.8 248.75,435.92 252.19,436.04 255.63,436.16 259.06,436.28 262.5,436.41 265.94,436.47 269.38,436.53 272.81,436.59 276.25,436.65 279.69,436.71 283.13,436.77 286.56,436.79 290,436.8 293.44,436.82 296.88,436.83 300.31,436.85 303.75,436.86 307.19,436.88 310.62,436.89" fill="none" stroke="#2ca02c" stroke-width="1.7" stroke-linejoin="round" stroke-linecap="round" />
<path d="M40.6 435.24L44.4 439.04M40.6 439.04L44.4 435.24M44.04 435.23L47.84 439.03M44.04 439.03L47.84 435.23M47.48 435.22L51.28 439.02M47.48 439.02L51.28 435.22M50.91 435.21L54.71 439.01M50.91 439.01L54.71 435.21M54.35 435.21L58.15 439.01M54.35 439.01L58.15 435.21M57.79 435.2L61.59 439M57.79 439L61.59 435.2M61.23 435.19L65.03 438.99M61.23 438.99L65.03 435.19M64.66 435.18L68.46 438.98M64.66 438.98L68.46 435.18M68.1 435.18L71.9 438.98M68.1 438.98L71.9 435.18M71.54 435.17L75.34 438.97M71.54 438.97L75.34 435.17M74.98 435.16L78.78 438.96M74.98 438.96L78.78 435.16M78.41 435.15L82.21 438.95M78.41 438.95L82.21 435.15M81.85 435.14L85.65 438.94M81.85 438.94L85.65 435.14M85.29 435.14L89.09 438.94M85.29 438.94L89.09 435.14M88.73 435.13L92.53 438.93M88.73 438.93L92.53 435.13M92.16 435.12L95.96 438.92M92.16 438.92L95.96 435.12M95.6 435.11L99.4 438.91M95.6 438.91L99.4 435.11M99.04 435.48L102.84 439.28M99.04 439.28L102.84 435.48M102.48 435.84L106.28 439.64M102.48 439.64L106.28 435.84M105.91 437.06L109.71 440.86M105.91 440.86L109.71 437.06M109.35 438.28L113.15 442.08M109.35 442.08L113.15 438.28M112.79 440.1L116.59 443.9M112.79 443.9L116.59 440.1M116.23 441.92L120.03 445.72M116.23 445.72L120.03 441.92M119.66 444.05L123.46 447.85M119.66 447.85L123.46 444.05M123.1 446.18L126.9 449.98M123.1 449.98L126.9 446.18M126.54 448L130.34 451.8M126.54 451.8L130.34 448M129.97 449.83L133.77 453.63M129.97 453.63L133.77 449.83M133.41 451.1L137.21 454.9M133.41 454.9L137.21 451.1M136.85 452.38L140.65 456.18M136.85 456.18L140.65 452.38M140.29 453.11L144.09 456.91M140.29 456.91L144.09 453.11M143.72 453.84L147.52 457.64M143.72 457.64L147.52 453.84M147.16 453.96L150.96 457.76M147.16 457.76L150.96 453.96M150.6 454.08L154.4 457.88M150.6 457.88L154.4 454.08M154.04 453.84L157.84 457.64M154.04 457.64L157.84 453.84M157.47 453.6L161.27 457.4M157.47 457.4L161.27 453.6M160.91 452.44L164.71 456.24M160.91 456.24L164.71 452.44M164.35 451.29L168.15 455.09M164.35 455.09L168.15 451.29M167.79 449.1L171.59 452.9M167.79 452.9L171.59 449.1M171.22 446.91L175.02 450.71M171.22 450.71L175.02 446.91M174.66 444.6L178.46 448.4M174.66 448.4L178.46 444.6M178.1 442.29L181.9 446.09M178.1 446.09L181.9 442.29M181.54 440.22L185.34 444.02M181.54 444.02L185.34 440.22M184.97 438.15L188.77 441.95M184.97 441.95L188.77 438.15M188.41 436.88L192.21 440.68M188.41 440.68L192.21 436.88M191.85 435.6L195.65 439.4M191.85 439.4L195.65 435.6M195.29 434.87L199.09 438.67M195.29 438.67L199.09 434.87M198.72 434.14L202.53 437.94M198.72 437.94L202.53 434.14M202.16 433.9L205.96 437.7M202.16 437.7L205.96 433.9M205.6 433.66L209.4 437.46M205.6 437.46L209.4 433.66M209.04 433.67L212.84 437.47M209.04 437.47L212.84 433.67M212.47 433.68L216.28 437.48M212.47 437.48L216.28 433.68M215.91 433.69L219.71 437.49M215.91 437.49L219.71 433.69M219.35 433.7L223.15 437.5M219.35 437.5L223.15 433.7M222.79 433.72L226.59 437.52M222.79 437.52L226.59 433.72M226.22 433.73L230.03 437.53M226.22 437.53L230.03 433.73M229.66 433.74L233.46 437.54M229.66 437.54L233.46 433.74M233.1 433.75L236.9 437.55M233.1 437.55L236.9 433.75M236.54 433.76L240.34 437.56M236.54 437.56L240.34 433.76M239.98 433.78L243.78 437.58M239.98 437.58L243.78 433.78M243.41 433.9L247.21 437.7M243.41 437.7L247.21 433.9M246.85 434.02L250.65 437.82M246.85 437.82L250.65 434.02M250.29 434.14L254.09 437.94M250.29 437.94L254.09 434.14M253.73 434.26L257.53 438.06M253.73 438.06L257.53 434.26M257.16 434.38L260.96 438.18M257.16 438.18L260.96 434.38M260.6 434.51L264.4 438.31M260.6 438.31L264.4 434.51M264.04 434.57L267.84 438.37M264.04 438.37L267.84 434.57M267.48 434.63L271.28 438.43M267.48 438.43L271.28 434.63M270.91 434.69L274.71 438.49M270.91 438.49L274.71 434.69M274.35 434.75L278.15 438.55M274.35 438.55L278.15 434.75M277.79 434.81L281.59 438.61M277.79 438.61L281.59 434.81M281.23 434.87L285.03 438.67M281.23 438.67L285.03 434.87M284.66 434.89L288.46 438.69M284.66 438.69L288.46 434.89M288.1 434.9L291.9 438.7M288.1 438.7L291.9 434.9M291.54 434.92L295.34 438.72M291.54 438.72L295.34 434.92M294.98 434.93L298.78 438.73M294.98 438.73L298.78 434.93M298.41 434.95L302.21 438.75M298.41 438.75L302.21 434.95M301.85 434.96L305.65 438.76M301.85 438.76L305.65 434.96M305.29 434.98L309.09 438.78M305.29 438.78L309.09 434.98M308.72 434.99L312.52 438.79M308.72 438.79L312.52 434.99" stroke="#2ca02c" stroke-width="0.95" fill="none"/>
</g>
<line x1="317.6" y1="261.3" x2="317.6" y2="457.5" stroke="#8a8a8a" stroke-width="1"/>
<line x1="42" y1="261.3" x2="318.1" y2="261.3" stroke="#8a8a8a" stroke-width="1"/>
<line x1="42.5" y1="260.8" x2="42.5" y2="458" stroke="#595959" stroke-width="1"/>
<line x1="42" y1="457.5" x2="318.1" y2="457.5" stroke="#595959" stroke-width="1"/>
<line x1="42.5" y1="359.5" x2="317.5" y2="359.5" stroke="#2e2e2e" stroke-width="1"/>
<line x1="39.6" y1="321.1" x2="42.5" y2="321.1" stroke="#595959" stroke-width="0.9"/>
<text transform="translate(38.1,325.8) scale(0.955,1)" font-size="13.6" text-anchor="end" >0.2</text>
<line x1="39.6" y1="280.9" x2="42.5" y2="280.9" stroke="#595959" stroke-width="0.9"/>
<text transform="translate(38.1,285.6) scale(0.955,1)" font-size="13.6" text-anchor="end" >0.4</text>
<line x1="39.6" y1="457.2" x2="42.5" y2="457.2" stroke="#595959" stroke-width="0.9"/>
<text transform="translate(38.1,461.9) scale(0.955,1)" font-size="13.6" text-anchor="end" >0.0</text>
<line x1="39.6" y1="396.4" x2="42.5" y2="396.4" stroke="#595959" stroke-width="0.9"/>
<text transform="translate(38.1,401.1) scale(0.955,1)" font-size="13.6" text-anchor="end" >0.5</text>
<line x1="42.5" y1="457.4" x2="42.5" y2="460.3" stroke="#595959" stroke-width="0.9"/>
<text transform="translate(42.5,471.8) scale(0.955,1)" font-size="13.6" text-anchor="middle" >0.50</text>
<line x1="111.25" y1="457.4" x2="111.25" y2="460.3" stroke="#595959" stroke-width="0.9"/>
<text transform="translate(111.25,471.8) scale(0.955,1)" font-size="13.6" text-anchor="middle" >0.55</text>
<line x1="180" y1="457.4" x2="180" y2="460.3" stroke="#595959" stroke-width="0.9"/>
<text transform="translate(180,471.8) scale(0.955,1)" font-size="13.6" text-anchor="middle" >0.60</text>
<line x1="248.75" y1="457.4" x2="248.75" y2="460.3" stroke="#595959" stroke-width="0.9"/>
<text transform="translate(248.75,471.8) scale(0.955,1)" font-size="13.6" text-anchor="middle" >0.65</text>
<line x1="317.5" y1="457.4" x2="317.5" y2="460.3" stroke="#595959" stroke-width="0.9"/>
<text transform="translate(317.5,471.8) scale(0.955,1)" font-size="13.6" text-anchor="middle" >0.70</text>
<text transform="translate(180,484.7) scale(0.93,1)" font-size="13.5" text-anchor="middle" font-style="italic">q</text>
<text transform="translate(310.3,280) scale(0.93,1)" font-size="16.8" text-anchor="end" font-weight="bold">c)</text>
<rect x="242.8" y="365.2" width="69.3" height="50.9" rx="2" ry="2" fill="#fff" fill-opacity="0.8" stroke="#d6d6d6" stroke-width="0.9"/>
<line x1="246.8" y1="373.5" x2="270.8" y2="373.5" stroke="#1f77b4" stroke-width="1.5"/>
<path d="M256.8 371.5L260.8 375.5M256.8 375.5L260.8 371.5" stroke="#1f77b4" stroke-width="1.0" fill="none"/>
<text class="lg2" x="279" y="376.9" font-size="12" font-style="italic">T<tspan font-size="7.5" dy="1.8">A</tspan></text>
<line x1="246.8" y1="389.35" x2="270.8" y2="389.35" stroke="#ff7f0e" stroke-width="1.5"/>
<path d="M256.8 387.35L260.8 391.35M256.8 391.35L260.8 387.35" stroke="#ff7f0e" stroke-width="1.0" fill="none"/>
<text class="lg2" x="279" y="392.75" font-size="12" font-style="italic">T<tspan font-size="7.5" dy="1.8">B, C, D</tspan></text>
<line x1="246.8" y1="405.2" x2="270.8" y2="405.2" stroke="#2ca02c" stroke-width="1.5"/>
<path d="M256.8 403.2L260.8 407.2M256.8 407.2L260.8 403.2" stroke="#2ca02c" stroke-width="1.0" fill="none"/>
<text class="lg2" x="279" y="408.6" font-size="12" font-style="italic">T<tspan font-size="7.5" dy="1.8">E, F</tspan></text>
<text transform="translate(16,323.2) rotate(-90)" x="0" y="0" font-size="14.2" font-style="italic">C</text>
<text transform="translate(16,323.2) rotate(-90)" x="8.9" y="1.3" font-size="9.4" font-style="italic">max</text>
<text transform="translate(16,429.4) rotate(-90)" x="0" y="0" font-size="14.2" font-style="italic">T</text>
<text transform="translate(16,429.4) rotate(-90)" x="7.8" y="1.8" font-size="9.4" font-style="italic">X</text>
<text transform="translate(16,429.4) rotate(-90)" x="14.8" y="0" font-size="14.2">·</text>
<text transform="translate(16,429.4) rotate(-90)" x="18.6" y="0" font-size="14.2" font-style="italic">N</text>
<text transform="translate(16,429.4) rotate(-90)" x="32" y="-5" font-size="8.8">−</text>
<text transform="translate(16,429.4) rotate(-90)" x="35.9" y="-5" font-size="8.8">1</text>
<g clip-path="url(#cd)">
<polyline points="410.4,354.39 416.82,354.37 423.24,354.35 429.66,354.33 436.08,354.31 442.5,354.29 448.92,354.27 455.34,354.25 461.76,354.24 468.18,354.22 474.6,354.2 481.02,354.18 487.44,354.16 493.86,354.14 500.28,354.12 506.7,354.1 513.12,354.08 519.54,354.06 525.96,354.04 528.53,354.03 531.1,354.02 533.66,354.01 536.23,353.78 538.8,348.01 541.37,344.98 543.94,338.17 546.5,329.42 549.07,318.78 551.64,303.17 554.21,286.61 556.78,278.1 559.34,268.17 561.91,267.22 564.48,265.33 570.9,275.73 577.32,284.25 583.74,294.65 590.16,303.17 596.58,310.74 603,318.02 609.42,325.11 615.84,327.62 622.26,332.82 628.68,337.51 635.1,338.69 641.52,340.91 647.94,344.32 654.36,345.97 660.78,347.49" fill="none" stroke="#1f77b4" stroke-width="1.8" stroke-linejoin="round" stroke-linecap="round" />
<circle cx="410.4" cy="354.39" r="2.35" fill="#1f77b4"/>
<circle cx="416.82" cy="354.37" r="2.35" fill="#1f77b4"/>
<circle cx="423.24" cy="354.35" r="2.35" fill="#1f77b4"/>
<circle cx="429.66" cy="354.33" r="2.35" fill="#1f77b4"/>
<circle cx="436.08" cy="354.31" r="2.35" fill="#1f77b4"/>
<circle cx="442.5" cy="354.29" r="2.35" fill="#1f77b4"/>
<circle cx="448.92" cy="354.27" r="2.35" fill="#1f77b4"/>
<circle cx="455.34" cy="354.25" r="2.35" fill="#1f77b4"/>
<circle cx="461.76" cy="354.24" r="2.35" fill="#1f77b4"/>
<circle cx="468.18" cy="354.22" r="2.35" fill="#1f77b4"/>
<circle cx="474.6" cy="354.2" r="2.35" fill="#1f77b4"/>
<circle cx="481.02" cy="354.18" r="2.35" fill="#1f77b4"/>
<circle cx="487.44" cy="354.16" r="2.35" fill="#1f77b4"/>
<circle cx="493.86" cy="354.14" r="2.35" fill="#1f77b4"/>
<circle cx="500.28" cy="354.12" r="2.35" fill="#1f77b4"/>
<circle cx="506.7" cy="354.1" r="2.35" fill="#1f77b4"/>
<circle cx="513.12" cy="354.08" r="2.35" fill="#1f77b4"/>
<circle cx="519.54" cy="354.06" r="2.35" fill="#1f77b4"/>
<circle cx="525.96" cy="354.04" r="2.35" fill="#1f77b4"/>
<circle cx="528.53" cy="354.03" r="2.35" fill="#1f77b4"/>
<circle cx="531.1" cy="354.02" r="2.35" fill="#1f77b4"/>
<circle cx="533.66" cy="354.01" r="2.35" fill="#1f77b4"/>
<circle cx="536.23" cy="353.78" r="2.35" fill="#1f77b4"/>
<circle cx="538.8" cy="348.01" r="2.35" fill="#1f77b4"/>
<circle cx="541.37" cy="344.98" r="2.35" fill="#1f77b4"/>
<circle cx="543.94" cy="338.17" r="2.35" fill="#1f77b4"/>
<circle cx="546.5" cy="329.42" r="2.35" fill="#1f77b4"/>
<circle cx="549.07" cy="318.78" r="2.35" fill="#1f77b4"/>
<circle cx="551.64" cy="303.17" r="2.35" fill="#1f77b4"/>
<circle cx="554.21" cy="286.61" r="2.35" fill="#1f77b4"/>
<circle cx="556.78" cy="278.1" r="2.35" fill="#1f77b4"/>
<circle cx="559.34" cy="268.17" r="2.35" fill="#1f77b4"/>
<circle cx="561.91" cy="267.22" r="2.35" fill="#1f77b4"/>
<circle cx="564.48" cy="265.33" r="2.35" fill="#1f77b4"/>
<circle cx="570.9" cy="275.73" r="2.35" fill="#1f77b4"/>
<circle cx="577.32" cy="284.25" r="2.35" fill="#1f77b4"/>
<circle cx="583.74" cy="294.65" r="2.35" fill="#1f77b4"/>
<circle cx="590.16" cy="303.17" r="2.35" fill="#1f77b4"/>
<circle cx="596.58" cy="310.74" r="2.35" fill="#1f77b4"/>
<circle cx="603" cy="318.02" r="2.35" fill="#1f77b4"/>
<circle cx="609.42" cy="325.11" r="2.35" fill="#1f77b4"/>
<circle cx="615.84" cy="327.62" r="2.35" fill="#1f77b4"/>
<circle cx="622.26" cy="332.82" r="2.35" fill="#1f77b4"/>
<circle cx="628.68" cy="337.51" r="2.35" fill="#1f77b4"/>
<circle cx="635.1" cy="338.69" r="2.35" fill="#1f77b4"/>
<circle cx="641.52" cy="340.91" r="2.35" fill="#1f77b4"/>
<circle cx="647.94" cy="344.32" r="2.35" fill="#1f77b4"/>
<circle cx="654.36" cy="345.97" r="2.35" fill="#1f77b4"/>
<circle cx="660.78" cy="347.49" r="2.35" fill="#1f77b4"/>
<polygon points="410.4,412.38 416.82,412.43 423.24,412.4 429.66,412.33 436.08,412.33 442.5,412.33 448.92,412.4 455.34,412.36 461.76,412.18 468.18,412.2 474.6,412.13 481.02,412.04 487.44,412.09 493.86,412.22 500.28,412.13 506.7,412.03 513.12,412.1 519.54,411.89 525.96,411.59 528.53,411.49 531.1,411.48 533.66,411.24 536.23,410.92 538.8,409.8 541.37,408.65 543.94,406.35 546.5,404.24 549.07,402.08 551.64,399.23 554.21,398.9 556.78,398.59 559.34,398.22 561.91,396.35 564.48,395.59 570.9,397.01 577.32,399.67 583.74,401.78 590.16,402.89 596.58,403.13 603,403.72 609.42,404.74 615.84,405.73 622.26,406.5 628.68,408.13 635.1,407.44 641.52,408.42 647.94,408.48 654.36,408.42 660.78,408.77 660.78,420.19 654.36,420.66 647.94,421.93 641.52,421.9 635.1,422.12 628.68,422.75 622.26,423.63 615.84,424.61 609.42,425.16 603,424.82 596.58,427.37 590.16,429.19 583.74,430.2 577.32,431.05 570.9,433.98 564.48,434.93 561.91,433.14 559.34,433.75 556.78,435.17 554.21,432.91 551.64,430.5 549.07,427.7 546.5,427.32 543.94,425.05 541.37,422.39 538.8,421.8 536.23,420.43 533.66,419.8 531.1,419.87 528.53,419.6 525.96,419.45 519.54,419.44 513.12,419.33 506.7,419.2 500.28,419.12 493.86,418.91 487.44,418.97 481.02,418.89 474.6,418.71 468.18,418.86 461.76,418.81 455.34,418.72 448.92,418.62 442.5,418.52 436.08,418.55 429.66,418.37 423.24,418.24 416.82,418.32 410.4,418.13" fill="#1f77b4" fill-opacity="0.3" stroke="none"/>
<polygon points="410.4,412.54 416.82,412.64 423.24,412.55 429.66,412.54 436.08,412.48 442.5,412.62 448.92,412.43 455.34,412.36 461.76,412.42 468.18,412.48 474.6,412.36 481.02,412.32 487.44,412.31 493.86,412.42 500.28,412.19 506.7,412.17 513.12,412.28 519.54,412.21 525.96,412.1 528.53,411.71 531.1,411.64 533.66,411.58 536.23,410.77 538.8,410.31 541.37,409.28 543.94,407.64 546.5,404.82 549.07,403.16 551.64,398.92 554.21,399.71 556.78,399.4 559.34,399.66 561.91,396.86 564.48,395.81 570.9,398.64 577.32,402.03 583.74,402.15 590.16,404.39 596.58,403.86 603,405.01 609.42,406.09 615.84,406.79 622.26,407.48 628.68,408.4 635.1,407.99 641.52,408.75 647.94,408.5 654.36,408.84 660.78,409.83 660.78,420.06 654.36,420.49 647.94,421.08 641.52,421.55 635.1,421.99 628.68,422.42 622.26,423.34 615.84,424.23 609.42,424.4 603,425.75 596.58,425.55 590.16,428.38 583.74,431 577.32,430.39 570.9,433.09 564.48,432.26 561.91,434.78 559.34,433.25 556.78,432.2 554.21,431.35 551.64,431.1 549.07,427.75 546.5,425.52 543.94,424.09 541.37,422.73 538.8,421.93 536.23,420.36 533.66,419.94 531.1,419.63 528.53,419.52 525.96,419.53 519.54,419.03 513.12,418.99 506.7,419.2 500.28,418.94 493.86,418.96 487.44,418.98 481.02,418.82 474.6,418.82 468.18,418.55 461.76,418.57 455.34,418.57 448.92,418.38 442.5,418.54 436.08,418.36 429.66,418.32 423.24,418.31 416.82,418.15 410.4,418.16" fill="#ff7f0e" fill-opacity="0.3" stroke="none"/>
<polygon points="410.4,413.53 416.82,413.61 423.24,413.5 429.66,413.49 436.08,413.58 442.5,413.52 448.92,413.55 455.34,413.48 461.76,413.58 468.18,413.5 474.6,413.45 481.02,413.45 487.44,413.54 493.86,413.43 500.28,413.51 506.7,413.42 513.12,413.45 519.54,413.5 525.96,413.4 528.53,413.24 531.1,413.1 533.66,412.9 536.23,412.5 538.8,411.71 541.37,410.97 543.94,409.47 546.5,408.32 549.07,407.09 551.64,406.13 554.21,405.61 556.78,405.28 559.34,404.2 561.91,404.82 564.48,404.8 570.9,404.75 577.32,406.75 583.74,407.03 590.16,407.96 596.58,409.57 603,410.3 609.42,410.17 615.84,410.88 622.26,410.81 628.68,410.8 635.1,411.2 641.52,410.87 647.94,411.19 654.36,411.35 660.78,411.29 660.78,418.08 654.36,418.51 647.94,418.78 641.52,419.05 635.1,419.87 628.68,420.3 622.26,420.25 615.84,420.66 609.42,421.38 603,422.24 596.58,422.37 590.16,422.98 583.74,423.65 577.32,425.36 570.9,424.78 564.48,427.22 561.91,427.52 559.34,427.94 556.78,427.49 554.21,426.35 551.64,424.79 549.07,422.98 546.5,422.74 543.94,421.67 541.37,420.63 538.8,419.33 536.23,418.32 533.66,417.76 531.1,417.59 528.53,417.41 525.96,417.22 519.54,417.18 513.12,417.16 506.7,417.25 500.28,417.24 493.86,417.12 487.44,417.24 481.02,417.14 474.6,417.13 468.18,417.15 461.76,417.19 455.34,417.19 448.92,417.12 442.5,417.08 436.08,417.12 429.66,417.17 423.24,417.07 416.82,417.12 410.4,417.07" fill="#2ca02c" fill-opacity="0.3" stroke="none"/>
<polyline points="410.4,415.6 416.82,415.07 423.24,415.33 429.66,415.11 436.08,414.92 442.5,415.25 448.92,415.28 455.34,415.61 461.76,415.46 468.18,415.28 474.6,415.15 481.02,415.05 487.44,415.37 493.86,415.61 500.28,415.44 506.7,414.97 513.12,415.5 519.54,415.32 525.96,414.96 528.53,415.64 531.1,415.21 533.66,414.94 536.23,415.49 538.8,415.25 541.37,414.46 543.94,416.02 546.5,415.24 549.07,414.78 551.64,414.94 554.21,415.35 556.78,415.88 559.34,415.3 561.91,415.54 564.48,415.33 570.9,415.55 577.32,414.6 583.74,414.74 590.16,415.66 596.58,415.14 603,415.73 609.42,415.38 615.84,415.39 622.26,415.16 628.68,415.38 635.1,415.31 641.52,415.12 647.94,415.35 654.36,414.98 660.78,415.52" fill="none" stroke="#1f77b4" stroke-width="1.6" stroke-linejoin="round" stroke-linecap="round" />
<path d="M408.3 413.5L412.5 417.7M408.3 417.7L412.5 413.5M414.72 412.97L418.92 417.17M414.72 417.17L418.92 412.97M421.14 413.23L425.34 417.43M421.14 417.43L425.34 413.23M427.56 413.01L431.76 417.21M427.56 417.21L431.76 413.01M433.98 412.82L438.18 417.02M433.98 417.02L438.18 412.82M440.4 413.15L444.6 417.35M440.4 417.35L444.6 413.15M446.82 413.18L451.02 417.38M446.82 417.38L451.02 413.18M453.24 413.51L457.44 417.71M453.24 417.71L457.44 413.51M459.66 413.36L463.86 417.56M459.66 417.56L463.86 413.36M466.08 413.18L470.28 417.38M466.08 417.38L470.28 413.18M472.5 413.05L476.7 417.25M472.5 417.25L476.7 413.05M478.92 412.95L483.12 417.15M478.92 417.15L483.12 412.95M485.34 413.27L489.54 417.47M485.34 417.47L489.54 413.27M491.76 413.51L495.96 417.71M491.76 417.71L495.96 413.51M498.18 413.34L502.38 417.54M498.18 417.54L502.38 413.34M504.6 412.87L508.8 417.07M504.6 417.07L508.8 412.87M511.02 413.4L515.22 417.6M511.02 417.6L515.22 413.4M517.44 413.22L521.64 417.42M517.44 417.42L521.64 413.22M523.86 412.86L528.06 417.06M523.86 417.06L528.06 412.86M526.43 413.54L530.63 417.74M526.43 417.74L530.63 413.54M529 413.11L533.2 417.31M529 417.31L533.2 413.11M531.56 412.84L535.76 417.04M531.56 417.04L535.76 412.84M534.13 413.39L538.33 417.59M534.13 417.59L538.33 413.39M536.7 413.15L540.9 417.35M536.7 417.35L540.9 413.15M539.27 412.36L543.47 416.56M539.27 416.56L543.47 412.36M541.84 413.92L546.04 418.12M541.84 418.12L546.04 413.92M544.4 413.14L548.6 417.34M544.4 417.34L548.6 413.14M546.97 412.68L551.17 416.88M546.97 416.88L551.17 412.68M549.54 412.84L553.74 417.04M549.54 417.04L553.74 412.84M552.11 413.25L556.31 417.45M552.11 417.45L556.31 413.25M554.68 413.78L558.88 417.98M554.68 417.98L558.88 413.78M557.24 413.2L561.44 417.4M557.24 417.4L561.44 413.2M559.81 413.44L564.01 417.64M559.81 417.64L564.01 413.44M562.38 413.23L566.58 417.43M562.38 417.43L566.58 413.23M568.8 413.45L573 417.65M568.8 417.65L573 413.45M575.22 412.5L579.42 416.7M575.22 416.7L579.42 412.5M581.64 412.64L585.84 416.84M581.64 416.84L585.84 412.64M588.06 413.56L592.26 417.76M588.06 417.76L592.26 413.56M594.48 413.04L598.68 417.24M594.48 417.24L598.68 413.04M600.9 413.63L605.1 417.83M600.9 417.83L605.1 413.63M607.32 413.28L611.52 417.48M607.32 417.48L611.52 413.28M613.74 413.29L617.94 417.49M613.74 417.49L617.94 413.29M620.16 413.06L624.36 417.26M620.16 417.26L624.36 413.06M626.58 413.28L630.78 417.48M626.58 417.48L630.78 413.28M633 413.21L637.2 417.41M633 417.41L637.2 413.21M639.42 413.02L643.62 417.22M639.42 417.22L643.62 413.02M645.84 413.25L650.04 417.45M645.84 417.45L650.04 413.25M652.26 412.88L656.46 417.08M652.26 417.08L656.46 412.88M658.68 413.42L662.88 417.62M658.68 417.62L662.88 413.42" stroke="#1f77b4" stroke-width="1.0" fill="none"/>
<polyline points="410.4,415.39 416.82,415.61 423.24,415.55 429.66,415.64 436.08,415.26 442.5,415.13 448.92,415.34 455.34,415.56 461.76,415.41 468.18,415.22 474.6,414.95 481.02,414.91 487.44,415.48 493.86,415.65 500.28,415.03 506.7,414.96 513.12,415.31 519.54,415.08 525.96,415.01 528.53,415.2 531.1,415 533.66,415.64 536.23,415.46 538.8,415.45 541.37,416.05 543.94,414.46 546.5,416.23 549.07,414.94 551.64,416.15 554.21,415.56 556.78,415.45 559.34,415.92 561.91,415.24 564.48,415.21 570.9,415.65 577.32,414.81 583.74,415.97 590.16,415.9 596.58,415.58 603,415.53 609.42,415.87 615.84,414.97 622.26,415.04 628.68,415.58 635.1,415.38 641.52,415.49 647.94,415.32 654.36,415.45 660.78,415.28" fill="none" stroke="#ff7f0e" stroke-width="1.6" stroke-linejoin="round" stroke-linecap="round" />
<path d="M408.3 413.29L412.5 417.49M408.3 417.49L412.5 413.29M414.72 413.51L418.92 417.71M414.72 417.71L418.92 413.51M421.14 413.45L425.34 417.65M421.14 417.65L425.34 413.45M427.56 413.54L431.76 417.74M427.56 417.74L431.76 413.54M433.98 413.16L438.18 417.36M433.98 417.36L438.18 413.16M440.4 413.03L444.6 417.23M440.4 417.23L444.6 413.03M446.82 413.24L451.02 417.44M446.82 417.44L451.02 413.24M453.24 413.46L457.44 417.66M453.24 417.66L457.44 413.46M459.66 413.31L463.86 417.51M459.66 417.51L463.86 413.31M466.08 413.12L470.28 417.32M466.08 417.32L470.28 413.12M472.5 412.85L476.7 417.05M472.5 417.05L476.7 412.85M478.92 412.81L483.12 417.01M478.92 417.01L483.12 412.81M485.34 413.38L489.54 417.58M485.34 417.58L489.54 413.38M491.76 413.55L495.96 417.75M491.76 417.75L495.96 413.55M498.18 412.93L502.38 417.13M498.18 417.13L502.38 412.93M504.6 412.86L508.8 417.06M504.6 417.06L508.8 412.86M511.02 413.21L515.22 417.41M511.02 417.41L515.22 413.21M517.44 412.98L521.64 417.18M517.44 417.18L521.64 412.98M523.86 412.91L528.06 417.11M523.86 417.11L528.06 412.91M526.43 413.1L530.63 417.3M526.43 417.3L530.63 413.1M529 412.9L533.2 417.1M529 417.1L533.2 412.9M531.56 413.54L535.76 417.74M531.56 417.74L535.76 413.54M534.13 413.36L538.33 417.56M534.13 417.56L538.33 413.36M536.7 413.35L540.9 417.55M536.7 417.55L540.9 413.35M539.27 413.95L543.47 418.15M539.27 418.15L543.47 413.95M541.84 412.36L546.04 416.56M541.84 416.56L546.04 412.36M544.4 414.13L548.6 418.33M544.4 418.33L548.6 414.13M546.97 412.84L551.17 417.04M546.97 417.04L551.17 412.84M549.54 414.05L553.74 418.25M549.54 418.25L553.74 414.05M552.11 413.46L556.31 417.66M552.11 417.66L556.31 413.46M554.68 413.35L558.88 417.55M554.68 417.55L558.88 413.35M557.24 413.82L561.44 418.02M557.24 418.02L561.44 413.82M559.81 413.14L564.01 417.34M559.81 417.34L564.01 413.14M562.38 413.11L566.58 417.31M562.38 417.31L566.58 413.11M568.8 413.55L573 417.75M568.8 417.75L573 413.55M575.22 412.71L579.42 416.91M575.22 416.91L579.42 412.71M581.64 413.87L585.84 418.07M581.64 418.07L585.84 413.87M588.06 413.8L592.26 418M588.06 418L592.26 413.8M594.48 413.48L598.68 417.68M594.48 417.68L598.68 413.48M600.9 413.43L605.1 417.63M600.9 417.63L605.1 413.43M607.32 413.77L611.52 417.97M607.32 417.97L611.52 413.77M613.74 412.87L617.94 417.07M613.74 417.07L617.94 412.87M620.16 412.94L624.36 417.14M620.16 417.14L624.36 412.94M626.58 413.48L630.78 417.68M626.58 417.68L630.78 413.48M633 413.28L637.2 417.48M633 417.48L637.2 413.28M639.42 413.39L643.62 417.59M639.42 417.59L643.62 413.39M645.84 413.22L650.04 417.42M645.84 417.42L650.04 413.22M652.26 413.35L656.46 417.55M652.26 417.55L656.46 413.35M658.68 413.18L662.88 417.38M658.68 417.38L662.88 413.18" stroke="#ff7f0e" stroke-width="1.0" fill="none"/>
<polyline points="410.4,414.94 416.82,415.59 423.24,415.28 429.66,415.57 436.08,415.5 442.5,415.08 448.92,414.95 455.34,415.31 461.76,415.66 468.18,414.91 474.6,415.62 481.02,415.37 487.44,415.25 493.86,414.99 500.28,415.04 506.7,415.2 513.12,415.36 519.54,415.03 525.96,415 528.53,415 531.1,415.12 533.66,415.59 536.23,415.44 538.8,415.29 541.37,415.27 543.94,414.61 546.5,415.81 549.07,414.95 551.64,415.54 554.21,414.73 556.78,415.9 559.34,415.33 561.91,416.08 564.48,415.86 570.9,414.41 577.32,415.65 583.74,414.49 590.16,415.23 596.58,416.21 603,414.69 609.42,416.18 615.84,415.04 622.26,415.65 628.68,415.15 635.1,415.54 641.52,415.4 647.94,414.94 654.36,415.29 660.78,415.16" fill="none" stroke="#2ca02c" stroke-width="1.6" stroke-linejoin="round" stroke-linecap="round" />
<path d="M408.3 412.84L412.5 417.04M408.3 417.04L412.5 412.84M414.72 413.49L418.92 417.69M414.72 417.69L418.92 413.49M421.14 413.18L425.34 417.38M421.14 417.38L425.34 413.18M427.56 413.47L431.76 417.67M427.56 417.67L431.76 413.47M433.98 413.4L438.18 417.6M433.98 417.6L438.18 413.4M440.4 412.98L444.6 417.18M440.4 417.18L444.6 412.98M446.82 412.85L451.02 417.05M446.82 417.05L451.02 412.85M453.24 413.21L457.44 417.41M453.24 417.41L457.44 413.21M459.66 413.56L463.86 417.76M459.66 417.76L463.86 413.56M466.08 412.81L470.28 417.01M466.08 417.01L470.28 412.81M472.5 413.52L476.7 417.72M472.5 417.72L476.7 413.52M478.92 413.27L483.12 417.47M478.92 417.47L483.12 413.27M485.34 413.15L489.54 417.35M485.34 417.35L489.54 413.15M491.76 412.89L495.96 417.09M491.76 417.09L495.96 412.89M498.18 412.94L502.38 417.14M498.18 417.14L502.38 412.94M504.6 413.1L508.8 417.3M504.6 417.3L508.8 413.1M511.02 413.26L515.22 417.46M511.02 417.46L515.22 413.26M517.44 412.93L521.64 417.13M517.44 417.13L521.64 412.93M523.86 412.9L528.06 417.1M523.86 417.1L528.06 412.9M526.43 412.9L530.63 417.1M526.43 417.1L530.63 412.9M529 413.02L533.2 417.22M529 417.22L533.2 413.02M531.56 413.49L535.76 417.69M531.56 417.69L535.76 413.49M534.13 413.34L538.33 417.54M534.13 417.54L538.33 413.34M536.7 413.19L540.9 417.39M536.7 417.39L540.9 413.19M539.27 413.17L543.47 417.37M539.27 417.37L543.47 413.17M541.84 412.51L546.04 416.71M541.84 416.71L546.04 412.51M544.4 413.71L548.6 417.91M544.4 417.91L548.6 413.71M546.97 412.85L551.17 417.05M546.97 417.05L551.17 412.85M549.54 413.44L553.74 417.64M549.54 417.64L553.74 413.44M552.11 412.63L556.31 416.83M552.11 416.83L556.31 412.63M554.68 413.8L558.88 418M554.68 418L558.88 413.8M557.24 413.23L561.44 417.43M557.24 417.43L561.44 413.23M559.81 413.98L564.01 418.18M559.81 418.18L564.01 413.98M562.38 413.76L566.58 417.96M562.38 417.96L566.58 413.76M568.8 412.31L573 416.51M568.8 416.51L573 412.31M575.22 413.55L579.42 417.75M575.22 417.75L579.42 413.55M581.64 412.39L585.84 416.59M581.64 416.59L585.84 412.39M588.06 413.13L592.26 417.33M588.06 417.33L592.26 413.13M594.48 414.11L598.68 418.31M594.48 418.31L598.68 414.11M600.9 412.59L605.1 416.79M600.9 416.79L605.1 412.59M607.32 414.08L611.52 418.28M607.32 418.28L611.52 414.08M613.74 412.94L617.94 417.14M613.74 417.14L617.94 412.94M620.16 413.55L624.36 417.75M620.16 417.75L624.36 413.55M626.58 413.05L630.78 417.25M626.58 417.25L630.78 413.05M633 413.44L637.2 417.64M633 417.64L637.2 413.44M639.42 413.3L643.62 417.5M639.42 417.5L643.62 413.3M645.84 412.84L650.04 417.04M645.84 417.04L650.04 412.84M652.26 413.19L656.46 417.39M652.26 417.39L656.46 413.19M658.68 413.06L662.88 417.26M658.68 417.26L662.88 413.06" stroke="#2ca02c" stroke-width="1.0" fill="none"/>
</g>
<line x1="673.6" y1="261.3" x2="673.6" y2="457.5" stroke="#8a8a8a" stroke-width="1"/>
<line x1="397.1" y1="261.3" x2="674.1" y2="261.3" stroke="#8a8a8a" stroke-width="1"/>
<line x1="397.6" y1="260.8" x2="397.6" y2="458" stroke="#595959" stroke-width="1"/>
<line x1="397.1" y1="457.5" x2="674.1" y2="457.5" stroke="#595959" stroke-width="1"/>
<line x1="397.6" y1="359.5" x2="673.6" y2="359.5" stroke="#2e2e2e" stroke-width="1"/>
<line x1="394.7" y1="313.1" x2="397.6" y2="313.1" stroke="#595959" stroke-width="0.9"/>
<text transform="translate(393.2,317.8) scale(0.955,1)" font-size="13.6" text-anchor="end" >0.1</text>
<line x1="394.7" y1="265.8" x2="397.6" y2="265.8" stroke="#595959" stroke-width="0.9"/>
<text transform="translate(393.2,270.5) scale(0.955,1)" font-size="13.6" text-anchor="end" >0.2</text>
<line x1="394.7" y1="457.2" x2="397.6" y2="457.2" stroke="#595959" stroke-width="0.9"/>
<text transform="translate(393.2,461.9) scale(0.955,1)" font-size="13.6" text-anchor="end" >0.0</text>
<line x1="394.7" y1="406.9" x2="397.6" y2="406.9" stroke="#595959" stroke-width="0.9"/>
<text transform="translate(393.2,411.6) scale(0.955,1)" font-size="13.6" text-anchor="end" >0.2</text>
<line x1="410.4" y1="457.4" x2="410.4" y2="460.3" stroke="#595959" stroke-width="0.9"/>
<text transform="translate(410.4,471.8) scale(0.955,1)" font-size="13.6" text-anchor="middle" >0.40</text>
<line x1="474.6" y1="457.4" x2="474.6" y2="460.3" stroke="#595959" stroke-width="0.9"/>
<text transform="translate(474.6,471.8) scale(0.955,1)" font-size="13.6" text-anchor="middle" >0.45</text>
<line x1="538.8" y1="457.4" x2="538.8" y2="460.3" stroke="#595959" stroke-width="0.9"/>
<text transform="translate(538.8,471.8) scale(0.955,1)" font-size="13.6" text-anchor="middle" >0.50</text>
<line x1="603" y1="457.4" x2="603" y2="460.3" stroke="#595959" stroke-width="0.9"/>
<text transform="translate(603,471.8) scale(0.955,1)" font-size="13.6" text-anchor="middle" >0.55</text>
<line x1="667.2" y1="457.4" x2="667.2" y2="460.3" stroke="#595959" stroke-width="0.9"/>
<text transform="translate(667.2,471.8) scale(0.955,1)" font-size="13.6" text-anchor="middle" >0.60</text>
<text transform="translate(535.6,484.7) scale(0.93,1)" font-size="13.5" text-anchor="middle" font-style="italic">q</text>
<text transform="translate(666.3,280) scale(0.93,1)" font-size="16.8" text-anchor="end" font-weight="bold">d)</text>
<rect x="403.3" y="365.6" width="69.1" height="50.2" rx="2" ry="2" fill="#fff" fill-opacity="0.8" stroke="#d6d6d6" stroke-width="0.9"/>
<line x1="407.2" y1="373.5" x2="431" y2="373.5" stroke="#1f77b4" stroke-width="1.5"/>
<path d="M417.1 371.5L421.1 375.5M417.1 375.5L421.1 371.5" stroke="#1f77b4" stroke-width="1.0" fill="none"/>
<text class="lg2" x="440" y="376.9" font-size="12" font-style="italic">T<tspan font-size="7.5" dy="1.8">A</tspan></text>
<line x1="407.2" y1="389.45" x2="431" y2="389.45" stroke="#ff7f0e" stroke-width="1.5"/>
<path d="M417.1 387.45L421.1 391.45M417.1 391.45L421.1 387.45" stroke="#ff7f0e" stroke-width="1.0" fill="none"/>
<text class="lg2" x="440" y="392.85" font-size="12" font-style="italic">T<tspan font-size="7.5" dy="1.8">B, C, D</tspan></text>
<line x1="407.2" y1="405.4" x2="431" y2="405.4" stroke="#2ca02c" stroke-width="1.5"/>
<path d="M417.1 403.4L421.1 407.4M417.1 407.4L421.1 403.4" stroke="#2ca02c" stroke-width="1.0" fill="none"/>
<text class="lg2" x="440" y="408.8" font-size="12" font-style="italic">T<tspan font-size="7.5" dy="1.8">E, F</tspan></text>
<text transform="translate(371,323.2) rotate(-90)" x="0" y="0" font-size="14.2" font-style="italic">C</text>
<text transform="translate(371,323.2) rotate(-90)" x="8.9" y="1.3" font-size="9.4" font-style="italic">max</text>
<text transform="translate(371,429.4) rotate(-90)" x="0" y="0" font-size="14.2" font-style="italic">T</text>
<text transform="translate(371,429.4) rotate(-90)" x="7.8" y="1.8" font-size="9.4" font-style="italic">X</text>
<text transform="translate(371,429.4) rotate(-90)" x="14.8" y="0" font-size="14.2">·</text>
<text transform="translate(371,429.4) rotate(-90)" x="18.6" y="0" font-size="14.2" font-style="italic">N</text>
<text transform="translate(371,429.4) rotate(-90)" x="32" y="-5" font-size="8.8">−</text>
<text transform="translate(371,429.4) rotate(-90)" x="35.9" y="-5" font-size="8.8">1</text>
</svg>
</body></html>
